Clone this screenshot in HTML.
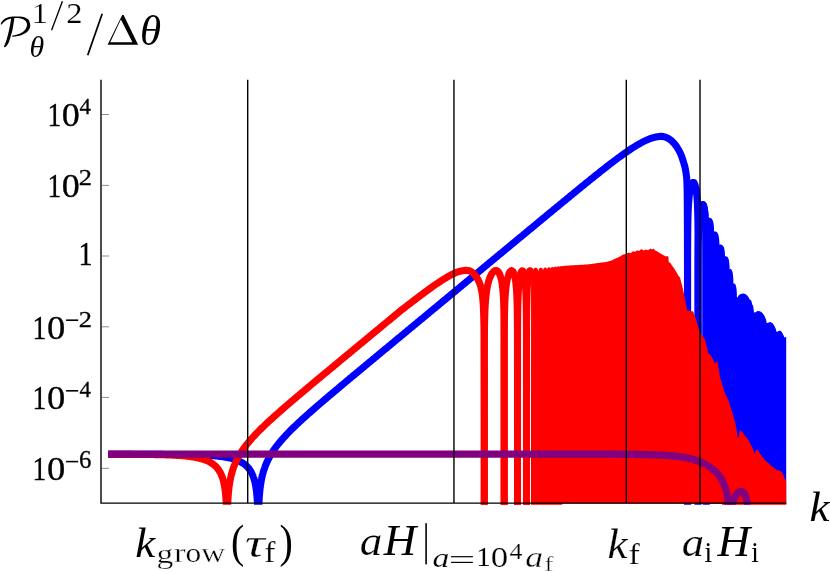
<!DOCTYPE html>
<html><head><meta charset="utf-8"><title>Power spectrum</title>
<style>
html,body{margin:0;padding:0;background:#fff;}
body{width:830px;height:572px;overflow:hidden;font-family:"Liberation Serif",serif;}
svg{display:block;}
text{font-family:"Liberation Serif",serif;fill:#000;}
.it{font-style:italic;}
</style></head><body>
<svg width="830" height="572" viewBox="0 0 830 572">
<rect width="830" height="572" fill="#fff"/>
<defs><clipPath id="cp"><rect x="100" y="70" width="700" height="434.8"/></clipPath></defs>
<g clip-path="url(#cp)" fill="none" stroke-linejoin="round" stroke-linecap="butt">
<g stroke="#0000ff" stroke-width="7.05">
<path d="M108.00,454.30 L109.43,454.31 L110.87,454.31 L112.30,454.31 L113.74,454.31 L115.17,454.31 L116.61,454.31 L118.04,454.31 L119.47,454.31 L120.91,454.31 L122.34,454.31 L123.78,454.31 L125.21,454.31 L126.65,454.31 L128.08,454.31 L129.52,454.32 L130.95,454.32 L132.38,454.32 L133.82,454.32 L135.25,454.32 L136.69,454.32 L138.12,454.32 L139.56,454.33 L140.99,454.33 L142.42,454.33 L143.86,454.33 L145.29,454.34 L146.73,454.34 L148.16,454.34 L149.60,454.34 L151.03,454.35 L152.46,454.35 L153.90,454.36 L155.33,454.36 L156.77,454.37 L158.20,454.37 L159.64,454.38 L161.07,454.38 L162.51,454.39 L163.94,454.40 L165.37,454.40 L166.81,454.41 L168.24,454.42 L169.68,454.43 L171.11,454.44 L172.55,454.45 L173.98,454.47 L175.41,454.48 L176.85,454.49 L178.28,454.51 L179.72,454.53 L181.15,454.54 L182.59,454.56 L184.02,454.59 L185.45,454.61 L186.89,454.63 L188.32,454.66 L189.76,454.69 L191.19,454.72 L192.63,454.76 L194.06,454.79 L195.49,454.83 L196.93,454.88 L198.36,454.93 L199.80,454.98 L201.23,455.03 L202.67,455.09 L204.10,455.16 L205.54,455.23 L206.97,455.31 L208.40,455.39 L209.84,455.48 L211.27,455.58 L212.71,455.69 L214.14,455.80 L215.58,455.93 L217.01,456.07 L218.44,456.22 L219.88,456.39 L221.31,456.57 L222.75,456.77 L224.18,456.98 L225.62,457.22 L227.05,457.48 L228.48,457.77 L229.92,458.08 L231.35,458.43 L232.79,458.81 L234.22,459.24 L235.66,459.72 L237.09,460.25 L238.53,460.84 L239.96,461.51 L241.39,462.27 L242.83,463.13 L244.26,464.12 L245.70,465.27 L247.13,466.61 L248.57,468.20 L250.00,470.14 L250.00,470.14 L250.05,470.22 L250.11,470.30 L250.16,470.38 L250.21,470.46 L250.27,470.54 L250.32,470.63 L250.37,470.71 L250.43,470.79 L250.48,470.88 L250.54,470.97 L250.59,471.05 L250.64,471.14 L250.70,471.23 L250.75,471.32 L250.80,471.41 L250.86,471.50 L250.91,471.59 L250.96,471.68 L251.02,471.78 L251.07,471.87 L251.12,471.97 L251.18,472.06 L251.23,472.16 L251.28,472.26 L251.34,472.36 L251.39,472.46 L251.44,472.56 L251.50,472.66 L251.55,472.76 L251.61,472.86 L251.66,472.97 L251.71,473.07 L251.77,473.18 L251.82,473.29 L251.87,473.40 L251.93,473.51 L251.98,473.62 L252.03,473.73 L252.09,473.84 L252.14,473.96 L252.19,474.07 L252.25,474.19 L252.30,474.31 L252.35,474.43 L252.41,474.55 L252.46,474.67 L252.52,474.79 L252.57,474.91 L252.62,475.04 L252.68,475.17 L252.73,475.30 L252.78,475.43 L252.84,475.56 L252.89,475.69 L252.94,475.83 L253.00,475.96 L253.05,476.10 L253.10,476.24 L253.16,476.38 L253.21,476.52 L253.26,476.67 L253.32,476.81 L253.37,476.96 L253.42,477.11 L253.48,477.26 L253.53,477.42 L253.59,477.57 L253.64,477.73 L253.69,477.89 L253.75,478.05 L253.80,478.22 L253.85,478.39 L253.91,478.56 L253.96,478.73 L254.01,478.90 L254.07,479.08 L254.12,479.26 L254.17,479.44 L254.23,479.62 L254.28,479.81 L254.33,480.00 L254.39,480.19 L254.44,480.39 L254.49,480.59 L254.55,480.79 L254.60,480.99 L254.66,481.20 L254.71,481.42 L254.76,481.63 L254.82,481.85 L254.87,482.08 L254.92,482.30 L254.98,482.53 L255.03,482.77 L255.08,483.01 L255.14,483.26 L255.19,483.51 L255.24,483.76 L255.30,484.02 L255.35,484.28 L255.40,484.55 L255.46,484.83 L255.51,485.11 L255.57,485.40 L255.62,485.69 L255.67,485.99 L255.73,486.30 L255.78,486.61 L255.83,486.94 L255.89,487.27 L255.94,487.60 L255.99,487.95 L256.05,488.31 L256.10,488.67 L256.15,489.05 L256.21,489.43 L256.26,489.83 L256.31,490.24 L256.37,490.66 L256.42,491.09 L256.47,491.54 L256.53,492.00 L256.58,492.48 L256.64,492.98 L256.69,493.49 L256.74,494.02 L256.80,494.57 L256.85,495.15 L256.90,495.75 L256.96,496.38 L257.01,497.03 L257.06,497.72 L257.12,498.44 L257.17,499.19 L257.22,499.99 L257.28,500.84 L257.33,501.73 L257.38,502.69 L257.44,503.71 L257.49,504.81 L257.55,505.00 L257.60,505.00 L257.65,505.00 L257.71,505.00 L257.76,505.00 L257.81,505.00 L257.87,505.00 L257.92,505.00 L257.97,505.00 L258.03,505.00 L258.08,505.00 L258.13,505.00 L258.19,505.00 L258.24,505.00 L258.29,505.00 L258.35,505.00 L258.40,505.00 L258.45,505.00 L258.51,505.00 L258.56,505.00 L258.62,505.00 L258.67,505.00 L258.72,505.00 L258.78,505.00 L258.83,505.00 L258.88,504.79 L258.94,503.61 L258.99,502.51 L259.04,501.48 L259.10,500.51 L259.15,499.60 L259.20,498.73 L259.26,497.91 L259.31,497.13 L259.36,496.39 L259.42,495.67 L259.47,494.99 L259.53,494.33 L259.58,493.70 L259.63,493.10 L259.69,492.51 L259.74,491.94 L259.79,491.39 L259.85,490.86 L259.90,490.35 L259.95,489.85 L260.01,489.37 L260.06,488.90 L260.11,488.44 L260.17,487.99 L260.22,487.55 L260.27,487.13 L260.33,486.72 L260.38,486.31 L260.43,485.92 L260.49,485.53 L260.54,485.15 L260.60,484.78 L260.65,484.42 L260.70,484.06 L260.76,483.72 L260.81,483.38 L260.86,483.04 L260.92,482.71 L260.97,482.39 L261.02,482.07 L261.08,481.76 L261.13,481.46 L261.18,481.15 L261.24,480.86 L261.29,480.57 L261.34,480.28 L261.40,480.00 L261.45,479.72 L261.51,479.45 L261.56,479.18 L261.61,478.91 L261.67,478.65 L261.72,478.39 L261.77,478.14 L261.83,477.88 L261.88,477.64 L261.93,477.39 L261.99,477.15 L262.04,476.91 L262.09,476.68 L262.15,476.44 L262.20,476.21 L262.25,475.99 L262.31,475.76 L262.36,475.54 L262.41,475.32 L262.47,475.10 L262.52,474.89 L262.58,474.68 L262.63,474.47 L262.68,474.26 L262.74,474.05 L262.79,473.85 L262.84,473.65 L262.90,473.45 L262.95,473.25 L263.00,473.06 L263.06,472.86 L263.11,472.67 L263.16,472.48 L263.22,472.29 L263.27,472.11 L263.32,471.92 L263.38,471.74 L263.43,471.56 L263.48,471.38 L263.54,471.20 L263.59,471.02 L263.65,470.85 L263.70,470.68 L263.75,470.50 L263.81,470.33 L263.86,470.16 L263.91,470.00 L263.97,469.83 L264.02,469.66 L264.07,469.50 L264.13,469.34 L264.18,469.17 L264.23,469.01 L264.29,468.86 L264.34,468.70 L264.39,468.54 L264.45,468.39 L264.50,468.23 L264.56,468.08 L264.61,467.92 L264.66,467.77 L264.72,467.62 L264.77,467.47 L264.82,467.33 L264.88,467.18 L264.93,467.03 L264.98,466.89 L265.04,466.74 L265.09,466.60 L265.14,466.46 L265.20,466.32 L265.25,466.17 L265.30,466.04 L265.36,465.90 L265.41,465.76 L265.46,465.62 L265.52,465.48 L265.57,465.35 L265.63,465.21 L265.68,465.08 L265.73,464.95 L265.79,464.81 L265.84,464.68 L265.89,464.55 L265.95,464.42 L266.00,464.29 L266.00,464.29 L267.00,462.00 L267.99,459.90 L268.99,457.96 L269.99,456.14 L270.99,454.44 L271.98,452.82 L272.98,451.28 L273.98,449.81 L274.98,448.39 L275.97,447.03 L276.97,445.71 L277.97,444.43 L278.97,443.19 L279.96,441.98 L280.96,440.79 L281.96,439.64 L282.96,438.50 L283.95,437.39 L284.95,436.30 L285.95,435.23 L286.95,434.17 L287.94,433.13 L288.94,432.10 L289.94,431.09 L290.94,430.09 L291.93,429.09 L292.93,428.11 L293.93,427.14 L294.93,426.18 L295.92,425.22 L296.92,424.28 L297.92,423.34 L298.92,422.41 L299.91,421.48 L300.91,420.56 L301.91,419.64 L302.91,418.73 L303.90,417.83 L304.90,416.93 L305.90,416.03 L306.90,415.14 L307.89,414.25 L308.89,413.36 L309.89,412.48 L310.89,411.60 L311.88,410.73 L312.88,409.85 L313.88,408.98 L314.88,408.12 L315.87,407.25 L316.87,406.39 L317.87,405.52 L318.87,404.66 L319.86,403.81 L320.86,402.95 L321.86,402.10 L322.86,401.24 L323.85,400.39 L324.85,399.54 L325.85,398.69 L326.85,397.85 L327.84,397.00 L328.84,396.15 L329.84,395.31 L330.84,394.47 L331.83,393.62 L332.83,392.78 L333.83,391.94 L334.83,391.10 L335.82,390.26 L336.82,389.43 L337.82,388.59 L338.82,387.75 L339.81,386.91 L340.81,386.08 L341.81,385.24 L342.81,384.41 L343.80,383.57 L344.80,382.74 L345.80,381.91 L346.80,381.07 L347.79,380.24 L348.79,379.41 L349.79,378.58 L350.79,377.74 L351.78,376.91 L352.78,376.08 L353.78,375.25 L354.78,374.42 L355.77,373.59 L356.77,372.76 L357.77,371.93 L358.77,371.10 L359.76,370.27 L360.76,369.44 L361.76,368.61 L362.76,367.78 L363.75,366.95 L364.75,366.12 L365.75,365.30 L366.75,364.47 L367.74,363.64 L368.74,362.81 L369.74,361.98 L370.74,361.16 L371.73,360.33 L372.73,359.50 L373.73,358.67 L374.73,357.84 L375.72,357.02 L376.72,356.19 L377.72,355.36 L378.72,354.54 L379.71,353.71 L380.71,352.88 L381.71,352.05 L382.71,351.23 L383.70,350.40 L384.70,349.57 L385.70,348.75 L386.70,347.92 L387.69,347.09 L388.69,346.27 L389.69,345.44 L390.69,344.61 L391.68,343.79 L392.68,342.96 L393.68,342.13 L394.68,341.31 L395.67,340.48 L396.67,339.65 L397.67,338.83 L398.67,338.00 L399.66,337.18 L400.66,336.35 L401.66,335.52 L402.66,334.70 L403.65,333.87 L404.65,333.04 L405.65,332.22 L406.65,331.39 L407.64,330.57 L408.64,329.74 L409.64,328.91 L410.64,328.09 L411.63,327.26 L412.63,326.43 L413.63,325.61 L414.63,324.78 L415.62,323.96 L416.62,323.13 L417.62,322.30 L418.62,321.48 L419.61,320.65 L420.61,319.83 L421.61,319.00 L422.61,318.17 L423.60,317.35 L424.60,316.52 L425.60,315.70 L426.60,314.87 L427.59,314.04 L428.59,313.22 L429.59,312.39 L430.59,311.57 L431.58,310.74 L432.58,309.91 L433.58,309.09 L434.58,308.26 L435.57,307.44 L436.57,306.61 L437.57,305.78 L438.57,304.96 L439.56,304.13 L440.56,303.31 L441.56,302.48 L442.56,301.65 L443.55,300.83 L444.55,300.00 L445.55,299.18 L446.55,298.35 L447.54,297.52 L448.54,296.70 L449.54,295.87 L450.54,295.05 L451.53,294.22 L452.53,293.39 L453.53,292.57 L454.53,291.74 L455.52,290.92 L456.52,290.09 L457.52,289.26 L458.52,288.44 L459.51,287.61 L460.51,286.79 L461.51,285.96 L462.51,285.14 L463.50,284.31 L464.50,283.48 L465.50,282.66 L466.50,281.83 L467.49,281.01 L468.49,280.18 L469.49,279.35 L470.49,278.53 L471.48,277.70 L472.48,276.88 L473.48,276.05 L474.48,275.22 L475.47,274.40 L476.47,273.57 L477.47,272.75 L478.47,271.92 L479.46,271.10 L480.46,270.27 L481.46,269.44 L482.46,268.62 L483.45,267.79 L484.45,266.97 L485.45,266.14 L486.45,265.31 L487.44,264.49 L488.44,263.66 L489.44,262.84 L490.44,262.01 L491.43,261.19 L492.43,260.36 L493.43,259.53 L494.43,258.71 L495.42,257.88 L496.42,257.06 L497.42,256.23 L498.42,255.40 L499.41,254.58 L500.41,253.75 L501.41,252.93 L502.41,252.10 L503.40,251.28 L504.40,250.45 L505.40,249.62 L506.40,248.80 L507.39,247.97 L508.39,247.15 L509.39,246.32 L510.39,245.50 L511.38,244.67 L512.38,243.85 L513.38,243.02 L514.38,242.19 L515.37,241.37 L516.37,240.54 L517.37,239.72 L518.37,238.89 L519.36,238.07 L520.36,237.24 L521.36,236.42 L522.36,235.59 L523.35,234.77 L524.35,233.94 L525.35,233.12 L526.35,232.29 L527.34,231.47 L528.34,230.64 L529.34,229.82 L530.34,228.99 L531.33,228.17 L532.33,227.34 L533.33,226.52 L534.33,225.69 L535.32,224.87 L536.32,224.04 L537.32,223.22 L538.32,222.39 L539.31,221.57 L540.31,220.74 L541.31,219.92 L542.31,219.10 L543.30,218.27 L544.30,217.45 L545.30,216.62 L546.30,215.80 L547.29,214.98 L548.29,214.15 L549.29,213.33 L550.29,212.51 L551.28,211.68 L552.28,210.86 L553.28,210.04 L554.28,209.21 L555.27,208.39 L556.27,207.57 L557.27,206.75 L558.27,205.93 L559.26,205.10 L560.26,204.28 L561.26,203.46 L562.26,202.64 L563.25,201.82 L564.25,201.00 L565.25,200.18 L566.25,199.36 L567.24,198.54 L568.24,197.72 L569.24,196.90 L570.24,196.08 L571.23,195.26 L572.23,194.45 L573.23,193.63 L574.23,192.81 L575.22,192.00 L576.22,191.18 L577.22,190.36 L578.22,189.55 L579.21,188.74 L580.21,187.92 L581.21,187.11 L582.21,186.30 L583.20,185.49 L584.20,184.67 L585.20,183.86 L586.20,183.06 L587.19,182.25 L588.19,181.44 L589.19,180.63 L590.19,179.83 L591.18,179.02 L592.18,178.22 L593.18,177.42 L594.18,176.62 L595.17,175.82 L596.17,175.02 L597.17,174.22 L598.17,173.43 L599.16,172.64 L600.16,171.84 L601.16,171.05 L602.16,170.27 L603.15,169.48 L604.15,168.70 L605.15,167.91 L606.15,167.13 L607.14,166.36 L608.14,165.58 L609.14,164.81 L610.14,164.04 L611.13,163.28 L612.13,162.51 L613.13,161.76 L614.13,161.00 L615.12,160.25 L616.12,159.50 L617.12,158.75 L618.12,158.01 L619.11,157.28 L620.11,156.55 L621.11,155.82 L622.11,155.10 L623.10,154.39 L624.10,153.68 L625.10,152.98 L626.10,152.28 L627.09,151.59 L628.00,150.97 L629.44,149.99 L630.89,149.02 L632.35,148.08 L633.82,147.14 L635.30,146.23 L636.79,145.32 L638.29,144.43 L639.80,143.58 L641.33,142.74 L642.87,141.93 L644.43,141.14 L646.01,140.41 L647.60,139.70 L649.21,139.03 L650.84,138.42 L652.50,137.88 L654.17,137.39 L655.87,136.97 L657.58,136.68 L659.31,136.44 L661.04,136.33 L662.78,136.52 L664.48,136.90 L666.15,137.42 L667.74,138.12 L669.25,139.00 L670.66,140.02 L671.96,141.16 L673.20,142.41 L674.36,143.71 L675.46,145.06 L676.50,146.46 L677.46,147.91 L678.34,149.41 L679.17,150.95 L679.95,152.50 L680.70,154.08 L681.38,155.69 L681.97,157.32 L682.51,158.97 L683.03,160.64 L683.55,162.30 L684.08,163.96 L684.58,165.63 L684.99,167.32 L685.37,169.02 L685.70,170.73 L685.97,172.45 L686.21,174.18 L686.44,175.91 L686.63,177.64 L686.77,179.38 L686.85,181.11 L686.92,182.85 L686.98,184.59 L687.03,186.33 L687.08,188.07 L687.12,189.81 L687.15,191.56 L687.18,193.30 L687.20,195.04 L687.22,196.78 L687.23,198.52 L687.25,200.26 L687.26,202.00 L687.28,203.75 L687.29,205.49 L687.30,207.23 L687.31,208.97 L687.32,210.71 L687.33,212.45 L687.34,214.19 L687.35,215.94 L687.36,217.68 L687.37,219.42 L687.37,221.16 L687.38,222.90 L687.39,224.64 L687.39,226.38 L687.40,228.13 L687.40,229.87 L687.40,231.61 L687.41,233.35 L687.41,235.09 L687.42,236.83 L687.42,238.57 L687.42,240.31 L687.43,242.06 L687.43,243.80 L687.43,245.54 L687.44,247.28 L687.44,249.02 L687.44,250.76 L687.45,252.50 L687.45,254.25 L687.45,255.99 L687.45,257.73 L687.46,259.47 L687.46,261.21 L687.46,262.95 L687.46,264.69 L687.47,266.44 L687.47,268.18 L687.47,269.92 L687.47,271.66 L687.47,273.40 L687.48,275.14 L687.48,276.88 L687.48,278.62 L687.48,280.37 L687.48,282.11 L687.49,283.85 L687.49,285.59 L687.49,287.33 L687.49,289.07 L687.49,290.81 L687.49,292.56 L687.50,294.30 L687.50,296.04 L687.50,297.78 L687.50,299.52 L687.50,301.26 L687.50,303.00 L687.50,304.74 L687.51,306.49 L687.51,308.23 L687.51,309.97 L687.51,311.71 L687.51,313.45 L687.51,315.19 L687.51,316.93 L687.51,318.68 L687.52,320.42 L687.52,322.16 L687.52,323.90 L687.52,325.64 L687.52,327.38 L687.52,329.12 L687.52,330.87 L687.53,332.61 L687.53,334.35 L687.53,336.09 L687.53,337.83 L687.53,339.57 L687.53,341.31 L687.53,343.05 L687.53,344.80 L687.54,346.54 L687.54,348.28 L687.54,350.02 L687.54,351.76 L687.54,353.50 L687.54,355.24 L687.54,356.99 L687.54,358.73 L687.54,360.47 L687.55,362.21 L687.55,363.95 L687.55,365.69 L687.55,367.43 L687.55,369.17 L687.55,370.92 L687.55,372.66 L687.55,374.40 L687.55,376.14 L687.56,377.88 L687.56,379.62 L687.56,381.36 L687.56,383.11 L687.56,384.85 L687.56,386.59 L687.56,388.33 L687.56,390.07 L687.56,391.81 L687.57,393.55 L687.57,395.29 L687.57,397.04 L687.57,398.78 L687.57,400.52 L687.57,402.26 L687.57,404.00 L687.57,405.74 L687.57,407.48 L687.57,409.23 L687.57,410.97 L687.58,412.71 L687.58,414.45 L687.58,416.19 L687.58,417.93 L687.58,419.67 L687.58,421.42 L687.58,423.16 L687.58,424.90 L687.58,426.64 L687.58,428.38 L687.58,430.12 L687.58,431.86 L687.58,433.60 L687.59,435.35 L687.59,437.09 L687.59,438.83 L687.59,440.57 L687.59,442.31 L687.59,444.05 L687.59,445.79 L687.59,447.54 L687.59,449.28 L687.59,451.02 L687.59,452.76 L687.59,454.50 L687.59,456.24 L687.59,457.98 L687.59,459.72 L687.59,461.47 L687.59,463.21 L687.60,464.95 L687.60,466.69 L687.60,468.43 L687.60,470.17 L687.60,471.91 L687.60,473.66 L687.60,475.40 L687.60,477.14 L687.60,478.88 L687.60,480.62 L687.60,482.36 L687.60,484.10 L687.60,485.85 L687.60,487.59 L687.60,489.33 L687.60,491.07 L687.60,492.81 L687.60,494.55 L687.60,496.29 L687.60,498.03 L687.60,499.78 L687.60,501.52 L687.60,503.26 L687.60,505.00"/>
<path d="M687.60,501.00 L687.64,255.20 L687.67,244.54 L687.71,238.30 L687.74,233.87 L687.78,230.43 L687.81,227.62 L687.85,225.24 L687.88,223.18 L687.92,221.37 L687.95,219.74 L687.99,218.27 L688.02,216.93 L688.06,215.69 L688.09,214.55 L688.13,213.49 L688.16,212.49 L688.20,211.56 L688.23,210.68 L688.27,209.85 L688.30,209.06 L688.34,208.30 L688.37,207.59 L688.41,206.91 L688.44,206.25 L688.48,205.63 L688.51,205.02 L688.55,204.45 L688.58,203.89 L688.62,203.35 L688.65,202.83 L688.69,202.33 L688.72,201.85 L688.76,201.38 L688.79,200.93 L688.83,200.49 L688.86,200.06 L688.90,199.65 L688.93,199.24 L688.97,198.85 L689.00,198.47 L689.04,198.10 L689.07,197.74 L689.11,197.38 L689.15,197.04 L689.18,196.70 L689.22,196.38 L689.25,196.06 L689.29,195.75 L689.32,195.44 L689.36,195.14 L689.39,194.85 L689.43,194.57 L689.46,194.29 L689.50,194.01 L689.53,193.75 L689.57,193.49 L689.60,193.23 L689.64,192.98 L689.67,192.73 L689.71,192.49 L689.74,192.26 L689.78,192.02 L689.81,191.80 L689.85,191.57 L689.88,191.36 L689.92,191.14 L689.95,190.93 L689.99,190.73 L690.02,190.52 L690.06,190.32 L690.09,190.13 L690.13,189.94 L690.16,189.75 L690.20,189.57 L690.23,189.39 L690.27,189.21 L690.30,189.03 L690.34,188.86 L690.37,188.69 L690.41,188.53 L690.44,188.37 L690.48,188.21 L690.51,188.05 L690.55,187.90 L690.58,187.75 L690.62,187.60 L690.66,187.45 L690.69,187.31 L690.73,187.17 L690.76,187.03 L690.80,186.90 L690.83,186.77 L690.87,186.64 L690.90,186.51 L690.94,186.38 L690.97,186.26 L691.01,186.14 L691.04,186.02 L691.08,185.90 L691.11,185.79 L691.15,185.68 L691.18,185.57 L691.22,185.46 L691.25,185.36 L691.29,185.25 L691.32,185.15 L691.36,185.05 L691.39,184.95 L691.43,184.86 L691.46,184.77 L691.50,184.68 L691.53,184.59 L691.57,184.50 L691.60,184.41 L691.64,184.33 L691.67,184.25 L691.71,184.17 L691.74,184.09 L691.78,184.02 L691.81,183.94 L691.85,183.87 L691.88,183.80 L691.92,183.73 L691.95,183.66 L691.99,183.60 L692.02,183.54 L692.06,183.47 L692.09,183.41 L692.13,183.36 L692.17,183.30 L692.20,183.25 L692.24,183.19 L692.27,183.14 L692.31,183.09 L692.34,183.04 L692.38,183.00 L692.41,182.95 L692.45,182.91 L692.48,182.87 L692.52,182.83 L692.55,182.79 L692.59,182.76 L692.62,182.73 L692.66,182.69 L692.69,182.66 L692.73,182.63 L692.76,182.61 L692.80,182.58 L692.83,182.56 L692.87,182.53 L692.90,182.51 L692.94,182.50 L692.97,182.48 L693.01,182.46 L693.04,182.45 L693.08,182.44 L693.11,182.43 L693.15,182.42 L693.18,182.41 L693.22,182.41 L693.25,182.40 L693.29,182.40 L693.32,182.40 L693.36,182.40 L693.39,182.41 L693.43,182.41 L693.46,182.42 L693.50,182.43 L693.53,182.44 L693.57,182.45 L693.61,182.46 L693.64,182.48 L693.68,182.50 L693.71,182.52 L693.75,182.54 L693.78,182.56 L693.82,182.59 L693.85,182.61 L693.89,182.64 L693.92,182.67 L693.96,182.70 L693.99,182.74 L694.03,182.77 L694.06,182.81 L694.10,182.85 L694.13,182.90 L694.17,182.94 L694.20,182.99 L694.24,183.03 L694.27,183.09 L694.31,183.14 L694.34,183.19 L694.38,183.25 L694.41,183.31 L694.45,183.37 L694.48,183.43 L694.52,183.50 L694.55,183.57 L694.59,183.64 L694.62,183.71 L694.66,183.78 L694.69,183.86 L694.73,183.94 L694.76,184.02 L694.80,184.10 L694.83,184.19 L694.87,184.28 L694.90,184.37 L694.94,184.47 L694.97,184.56 L695.01,184.66 L695.04,184.77 L695.08,184.87 L695.12,184.98 L695.15,185.09 L695.19,185.20 L695.22,185.32 L695.26,185.44 L695.29,185.56 L695.33,185.69 L695.36,185.82 L695.40,185.95 L695.43,186.09 L695.47,186.22 L695.50,186.37 L695.54,186.51 L695.57,186.66 L695.61,186.82 L695.64,186.97 L695.68,187.13 L695.71,187.30 L695.75,187.47 L695.78,187.64 L695.82,187.82 L695.85,188.00 L695.89,188.19 L695.92,188.38 L695.96,188.57 L695.99,188.77 L696.03,188.98 L696.06,189.19 L696.10,189.41 L696.13,189.63 L696.17,189.85 L696.20,190.09 L696.24,190.32 L696.27,190.57 L696.31,190.82 L696.34,191.08 L696.38,191.34 L696.41,191.62 L696.45,191.89 L696.48,192.18 L696.52,192.48 L696.55,192.78 L696.59,193.09 L696.63,193.41 L696.66,193.74 L696.70,194.08 L696.73,194.43 L696.77,194.79 L696.80,195.17 L696.84,195.55 L696.87,195.95 L696.91,196.36 L696.94,196.78 L696.98,197.22 L697.01,197.68 L697.05,198.15 L697.08,198.64 L697.12,199.15 L697.15,199.68 L697.19,200.23 L697.22,200.80 L697.26,201.40 L697.29,202.03 L697.33,202.69 L697.36,203.38 L697.40,204.10 L697.43,204.87 L697.47,205.68 L697.50,206.53 L697.54,207.44 L697.57,208.41 L697.61,209.45 L697.64,210.57 L697.68,211.79 L697.71,213.11 L697.75,214.55 L697.78,216.16 L697.82,217.95 L697.85,219.99 L697.89,222.35 L697.92,225.14 L697.96,228.55 L697.99,232.97 L698.03,239.19 L698.06,249.83 L698.10,501.00"/>
<path d="M698.10,505.00 L698.13,276.78 L698.15,266.12 L698.18,259.88 L698.21,255.45 L698.24,252.02 L698.26,249.21 L698.29,246.84 L698.32,244.78 L698.35,242.96 L698.37,241.34 L698.40,239.87 L698.43,238.53 L698.46,237.30 L698.48,236.16 L698.51,235.10 L698.54,234.11 L698.57,233.18 L698.59,232.30 L698.62,231.47 L698.65,230.68 L698.68,229.93 L698.70,229.22 L698.73,228.54 L698.76,227.89 L698.79,227.26 L698.81,226.67 L698.84,226.09 L698.87,225.54 L698.90,225.00 L698.92,224.49 L698.95,223.99 L698.98,223.51 L699.01,223.04 L699.03,222.59 L699.06,222.16 L699.09,221.73 L699.11,221.32 L699.14,220.92 L699.17,220.53 L699.20,220.15 L699.22,219.78 L699.25,219.43 L699.28,219.08 L699.31,218.74 L699.33,218.40 L699.36,218.08 L699.39,217.76 L699.42,217.45 L699.44,217.15 L699.47,216.86 L699.50,216.57 L699.53,216.29 L699.55,216.01 L699.58,215.74 L699.61,215.48 L699.64,215.22 L699.66,214.97 L699.69,214.72 L699.72,214.48 L699.75,214.24 L699.77,214.01 L699.80,213.78 L699.83,213.56 L699.86,213.34 L699.88,213.13 L699.91,212.92 L699.94,212.71 L699.96,212.51 L699.99,212.31 L700.02,212.11 L700.05,211.92 L700.07,211.74 L700.10,211.55 L700.13,211.37 L700.16,211.19 L700.18,211.02 L700.21,210.85 L700.24,210.68 L700.27,210.52 L700.29,210.36 L700.32,210.20 L700.35,210.04 L700.38,209.89 L700.40,209.74 L700.43,209.60 L700.46,209.45 L700.49,209.31 L700.51,209.17 L700.54,209.04 L700.57,208.90 L700.60,208.77 L700.62,208.64 L700.65,208.52 L700.68,208.39 L700.71,208.27 L700.73,208.15 L700.76,208.04 L700.79,207.92 L700.82,207.81 L700.84,207.70 L700.87,207.60 L700.90,207.49 L700.92,207.39 L700.95,207.29 L700.98,207.19 L701.01,207.09 L701.03,207.00 L701.06,206.90 L701.09,206.81 L701.12,206.72 L701.14,206.64 L701.17,206.55 L701.20,206.47 L701.23,206.39 L701.25,206.31 L701.28,206.23 L701.31,206.16 L701.34,206.09 L701.36,206.01 L701.39,205.94 L701.42,205.88 L701.45,205.81 L701.47,205.75 L701.50,205.69 L701.53,205.62 L701.56,205.57 L701.58,205.51 L701.61,205.45 L701.64,205.40 L701.67,205.35 L701.69,205.30 L701.72,205.25 L701.75,205.21 L701.77,205.16 L701.80,205.12 L701.83,205.08 L701.86,205.04 L701.88,205.00 L701.91,204.96 L701.94,204.93 L701.97,204.90 L701.99,204.87 L702.02,204.84 L702.05,204.81 L702.08,204.78 L702.10,204.76 L702.13,204.74 L702.16,204.72 L702.19,204.70 L702.21,204.68 L702.24,204.66 L702.27,204.65 L702.30,204.64 L702.32,204.63 L702.35,204.62 L702.38,204.61 L702.41,204.61 L702.43,204.60 L702.46,204.60 L702.49,204.60 L702.52,204.60 L702.54,204.60 L702.57,204.61 L702.60,204.62 L702.63,204.62 L702.65,204.63 L702.68,204.65 L702.71,204.66 L702.73,204.68 L702.76,204.69 L702.79,204.71 L702.82,204.73 L702.84,204.75 L702.87,204.78 L702.90,204.81 L702.93,204.83 L702.95,204.86 L702.98,204.89 L703.01,204.93 L703.04,204.96 L703.06,205.00 L703.09,205.04 L703.12,205.08 L703.15,205.12 L703.17,205.17 L703.20,205.22 L703.23,205.27 L703.26,205.32 L703.28,205.37 L703.31,205.43 L703.34,205.48 L703.37,205.54 L703.39,205.60 L703.42,205.67 L703.45,205.73 L703.48,205.80 L703.50,205.87 L703.53,205.94 L703.56,206.02 L703.58,206.10 L703.61,206.18 L703.64,206.26 L703.67,206.34 L703.69,206.43 L703.72,206.52 L703.75,206.61 L703.78,206.70 L703.80,206.80 L703.83,206.90 L703.86,207.00 L703.89,207.10 L703.91,207.21 L703.94,207.32 L703.97,207.43 L704.00,207.55 L704.02,207.67 L704.05,207.79 L704.08,207.91 L704.11,208.04 L704.13,208.17 L704.16,208.30 L704.19,208.44 L704.22,208.58 L704.24,208.72 L704.27,208.87 L704.30,209.02 L704.33,209.18 L704.35,209.33 L704.38,209.50 L704.41,209.66 L704.44,209.83 L704.46,210.00 L704.49,210.18 L704.52,210.36 L704.54,210.55 L704.57,210.74 L704.60,210.93 L704.63,211.13 L704.65,211.34 L704.68,211.55 L704.71,211.76 L704.74,211.98 L704.76,212.21 L704.79,212.44 L704.82,212.68 L704.85,212.92 L704.87,213.17 L704.90,213.42 L704.93,213.68 L704.96,213.95 L704.98,214.23 L705.01,214.51 L705.04,214.80 L705.07,215.10 L705.09,215.41 L705.12,215.72 L705.15,216.05 L705.18,216.38 L705.20,216.73 L705.23,217.08 L705.26,217.45 L705.29,217.82 L705.31,218.21 L705.34,218.61 L705.37,219.02 L705.39,219.45 L705.42,219.90 L705.45,220.35 L705.48,220.83 L705.50,221.32 L705.53,221.83 L705.56,222.37 L705.59,222.92 L705.61,223.50 L705.64,224.10 L705.67,224.73 L705.70,225.39 L705.72,226.09 L705.75,226.81 L705.78,227.58 L705.81,228.39 L705.83,229.25 L705.86,230.16 L705.89,231.14 L705.92,232.18 L705.94,233.30 L705.97,234.52 L706.00,235.84 L706.03,237.29 L706.05,238.90 L706.08,240.69 L706.11,242.73 L706.14,245.09 L706.16,247.88 L706.19,251.31 L706.22,255.72 L706.25,261.94 L706.27,272.59 L706.30,505.00"/>
</g>
<path d="M702.30,503.60 L702.30,201.30 L702.30,201.10 L703.95,201.19 L705.13,201.66 L706.11,202.67 L706.92,204.32 L707.56,206.64 L708.03,209.59 L708.31,213.09 L708.40,217.00 L708.40,217.70 L709.94,217.78 L711.04,218.17 L711.96,219.03 L712.72,220.44 L713.32,222.40 L713.75,224.91 L714.01,227.88 L714.10,231.20 L714.10,231.40 L715.53,231.48 L716.56,231.85 L717.41,232.67 L718.12,234.01 L718.67,235.90 L719.07,238.29 L719.32,241.13 L719.40,244.30 L719.40,244.50 L720.91,244.57 L722.00,244.90 L722.90,245.64 L723.64,246.83 L724.23,248.51 L724.66,250.64 L724.91,253.17 L725.00,256.00 L725.00,256.20 L726.24,256.27 L727.13,256.64 L727.87,257.44 L728.49,258.75 L728.97,260.59 L729.32,262.93 L729.53,265.70 L729.60,268.80 L729.60,269.00 L730.63,269.08 L731.36,269.50 L731.97,270.41 L732.48,271.90 L732.88,273.98 L733.17,276.64 L733.34,279.78 L733.40,283.30 L733.40,283.50 L734.35,283.58 L735.02,283.97 L735.59,284.83 L736.05,286.24 L736.42,288.20 L736.69,290.71 L736.85,293.68 L736.90,297.00 L737.40,297.60 L738.60,295.60 L740.60,294.00 L743.20,293.60 L745.40,294.00 L747.20,295.40 L748.80,297.60 L749.60,299.60 L750.60,299.80 L751.60,301.60 L752.20,304.60 L753.00,305.60 L753.60,309.00 L754.00,312.40 L755.60,312.20 L757.50,311.00 L760.00,311.20 L762.50,313.00 L764.50,316.00 L766.00,319.50 L766.80,323.20 L768.50,322.60 L770.50,322.00 L772.50,323.20 L774.50,326.00 L775.80,329.00 L776.60,332.00 L778.00,331.20 L780.00,330.50 L781.80,332.00 L783.40,335.00 L784.40,337.50 L786.20,337.00 L786.20,503.60 Z" fill="#0000ff" stroke="none"/>
<g stroke="#ff0000" stroke-width="7.05">
<path d="M108.00,454.33 L109.11,454.33 L110.22,454.33 L111.33,454.33 L112.44,454.33 L113.56,454.33 L114.67,454.34 L115.78,454.34 L116.89,454.34 L118.00,454.34 L119.11,454.35 L120.22,454.35 L121.33,454.35 L122.44,454.36 L123.56,454.36 L124.67,454.36 L125.78,454.37 L126.89,454.37 L128.00,454.37 L129.11,454.38 L130.22,454.38 L131.33,454.39 L132.44,454.40 L133.56,454.40 L134.67,454.41 L135.78,454.41 L136.89,454.42 L138.00,454.43 L139.11,454.44 L140.22,454.45 L141.33,454.45 L142.44,454.46 L143.56,454.47 L144.67,454.48 L145.78,454.50 L146.89,454.51 L148.00,454.52 L149.11,454.53 L150.22,454.55 L151.33,454.56 L152.44,454.58 L153.56,454.60 L154.67,454.62 L155.78,454.64 L156.89,454.66 L158.00,454.68 L159.11,454.70 L160.22,454.73 L161.33,454.76 L162.44,454.78 L163.56,454.82 L164.67,454.85 L165.78,454.88 L166.89,454.92 L168.00,454.96 L169.11,455.00 L170.22,455.04 L171.33,455.09 L172.44,455.14 L173.56,455.19 L174.67,455.25 L175.78,455.31 L176.89,455.37 L178.00,455.44 L179.11,455.52 L180.22,455.59 L181.33,455.68 L182.44,455.77 L183.56,455.86 L184.67,455.96 L185.78,456.07 L186.89,456.19 L188.00,456.31 L189.11,456.45 L190.22,456.59 L191.33,456.74 L192.44,456.90 L193.56,457.08 L194.67,457.27 L195.78,457.47 L196.89,457.69 L198.00,457.93 L199.11,458.18 L200.22,458.46 L201.33,458.75 L202.44,459.07 L203.56,459.42 L204.67,459.80 L205.78,460.21 L206.89,460.66 L208.00,461.16 L209.11,461.70 L210.22,462.30 L211.33,462.96 L212.44,463.69 L213.56,464.51 L214.67,465.43 L215.78,466.47 L216.89,467.65 L218.00,469.02 L218.00,469.02 L218.06,469.10 L218.12,469.19 L218.18,469.27 L218.24,469.35 L218.30,469.43 L218.36,469.52 L218.42,469.60 L218.48,469.69 L218.54,469.77 L218.60,469.86 L218.66,469.95 L218.72,470.03 L218.78,470.12 L218.84,470.21 L218.90,470.30 L218.96,470.40 L219.02,470.49 L219.08,470.58 L219.14,470.68 L219.20,470.77 L219.26,470.87 L219.32,470.96 L219.38,471.06 L219.44,471.16 L219.51,471.26 L219.57,471.36 L219.63,471.46 L219.69,471.57 L219.75,471.67 L219.81,471.77 L219.87,471.88 L219.93,471.99 L219.99,472.10 L220.05,472.20 L220.11,472.32 L220.17,472.43 L220.23,472.54 L220.29,472.65 L220.35,472.77 L220.41,472.88 L220.47,473.00 L220.53,473.12 L220.59,473.24 L220.65,473.36 L220.71,473.49 L220.77,473.61 L220.83,473.74 L220.89,473.86 L220.95,473.99 L221.01,474.12 L221.07,474.25 L221.13,474.39 L221.19,474.52 L221.25,474.66 L221.31,474.80 L221.37,474.94 L221.43,475.08 L221.49,475.22 L221.55,475.37 L221.61,475.51 L221.67,475.66 L221.73,475.81 L221.79,475.97 L221.85,476.12 L221.91,476.28 L221.97,476.44 L222.03,476.60 L222.09,476.76 L222.15,476.93 L222.21,477.10 L222.27,477.27 L222.33,477.44 L222.39,477.62 L222.45,477.80 L222.52,477.98 L222.58,478.16 L222.64,478.35 L222.70,478.54 L222.76,478.73 L222.82,478.93 L222.88,479.12 L222.94,479.33 L223.00,479.53 L223.06,479.74 L223.12,479.95 L223.18,480.17 L223.24,480.39 L223.30,480.61 L223.36,480.84 L223.42,481.07 L223.48,481.31 L223.54,481.55 L223.60,481.80 L223.66,482.05 L223.72,482.30 L223.78,482.56 L223.84,482.83 L223.90,483.10 L223.96,483.38 L224.02,483.66 L224.08,483.95 L224.14,484.25 L224.20,484.55 L224.26,484.86 L224.32,485.18 L224.38,485.50 L224.44,485.84 L224.50,486.18 L224.56,486.53 L224.62,486.89 L224.68,487.26 L224.74,487.64 L224.80,488.03 L224.86,488.43 L224.92,488.85 L224.98,489.27 L225.04,489.72 L225.10,490.17 L225.16,490.64 L225.22,491.13 L225.28,491.64 L225.34,492.16 L225.40,492.71 L225.46,493.27 L225.53,493.86 L225.59,494.48 L225.65,495.12 L225.71,495.80 L225.77,496.51 L225.83,497.25 L225.89,498.04 L225.95,498.86 L226.01,499.74 L226.07,500.68 L226.13,501.68 L226.19,502.76 L226.25,503.91 L226.31,505.00 L226.37,505.00 L226.43,505.00 L226.49,505.00 L226.55,505.00 L226.61,505.00 L226.67,505.00 L226.73,505.00 L226.79,505.00 L226.85,505.00 L226.91,505.00 L226.97,505.00 L227.03,505.00 L227.09,505.00 L227.15,505.00 L227.21,505.00 L227.27,505.00 L227.33,505.00 L227.39,505.00 L227.45,505.00 L227.51,505.00 L227.57,505.00 L227.63,505.00 L227.69,504.60 L227.75,503.29 L227.81,502.08 L227.87,500.96 L227.93,499.91 L227.99,498.92 L228.05,497.99 L228.11,497.11 L228.17,496.28 L228.23,495.49 L228.29,494.73 L228.35,494.00 L228.41,493.31 L228.47,492.64 L228.54,492.00 L228.60,491.39 L228.66,490.79 L228.72,490.22 L228.78,489.66 L228.84,489.12 L228.90,488.60 L228.96,488.10 L229.02,487.61 L229.08,487.13 L229.14,486.66 L229.20,486.21 L229.26,485.77 L229.32,485.34 L229.38,484.92 L229.44,484.51 L229.50,484.11 L229.56,483.72 L229.62,483.34 L229.68,482.96 L229.74,482.59 L229.80,482.23 L229.86,481.88 L229.92,481.54 L229.98,481.20 L230.04,480.86 L230.10,480.54 L230.16,480.22 L230.22,479.90 L230.28,479.59 L230.34,479.28 L230.40,478.98 L230.46,478.69 L230.52,478.40 L230.58,478.11 L230.64,477.83 L230.70,477.55 L230.76,477.28 L230.82,477.01 L230.88,476.74 L230.94,476.48 L231.00,476.22 L231.06,475.97 L231.12,475.71 L231.18,475.47 L231.24,475.22 L231.30,474.98 L231.36,474.74 L231.42,474.50 L231.48,474.27 L231.55,474.04 L231.61,473.81 L231.67,473.58 L231.73,473.36 L231.79,473.14 L231.85,472.92 L231.91,472.71 L231.97,472.49 L232.03,472.28 L232.09,472.07 L232.15,471.87 L232.21,471.66 L232.27,471.46 L232.33,471.26 L232.39,471.06 L232.45,470.86 L232.51,470.67 L232.57,470.47 L232.63,470.28 L232.69,470.09 L232.75,469.90 L232.81,469.72 L232.87,469.53 L232.93,469.35 L232.99,469.17 L233.05,468.99 L233.11,468.81 L233.17,468.63 L233.23,468.46 L233.29,468.28 L233.35,468.11 L233.41,467.94 L233.47,467.77 L233.53,467.60 L233.59,467.43 L233.65,467.27 L233.71,467.10 L233.77,466.94 L233.83,466.78 L233.89,466.61 L233.95,466.45 L234.01,466.30 L234.07,466.14 L234.13,465.98 L234.19,465.83 L234.25,465.67 L234.31,465.52 L234.37,465.36 L234.43,465.21 L234.49,465.06 L234.56,464.91 L234.62,464.76 L234.68,464.62 L234.74,464.47 L234.80,464.32 L234.86,464.18 L234.92,464.04 L234.98,463.89 L235.04,463.75 L235.10,463.61 L235.16,463.47 L235.22,463.33 L235.28,463.19 L235.34,463.05 L235.40,462.91 L235.46,462.78 L235.52,462.64 L235.58,462.51 L235.64,462.37 L235.70,462.24 L235.76,462.11 L235.82,461.97 L235.88,461.84 L235.94,461.71 L236.00,461.58 L236.00,461.58 L237.00,459.51 L238.00,457.60 L239.00,455.80 L240.00,454.11 L241.00,452.51 L242.00,450.98 L243.00,449.52 L244.00,448.11 L245.00,446.76 L246.00,445.44 L247.00,444.17 L248.00,442.93 L249.00,441.73 L250.00,440.55 L251.00,439.40 L252.00,438.27 L253.00,437.16 L254.00,436.07 L255.00,435.00 L256.00,433.94 L257.00,432.90 L258.00,431.88 L259.00,430.86 L260.00,429.86 L261.00,428.87 L262.00,427.89 L263.00,426.92 L264.00,425.96 L265.00,425.01 L266.00,424.06 L267.00,423.12 L268.00,422.19 L269.00,421.26 L270.00,420.34 L271.00,419.43 L272.00,418.52 L273.00,417.61 L274.00,416.71 L275.00,415.81 L276.00,414.92 L277.00,414.03 L278.00,413.15 L279.00,412.26 L280.00,411.38 L281.00,410.51 L282.00,409.63 L283.00,408.76 L284.00,407.89 L285.00,407.03 L286.00,406.16 L287.00,405.30 L288.00,404.44 L289.00,403.58 L290.00,402.73 L291.00,401.87 L292.00,401.02 L293.00,400.17 L294.00,399.32 L295.00,398.47 L296.00,397.62 L297.00,396.77 L298.00,395.92 L299.00,395.08 L300.00,394.23 L301.00,393.39 L302.00,392.55 L303.00,391.71 L304.00,390.87 L305.00,390.03 L306.00,389.19 L307.00,388.35 L308.00,387.51 L309.00,386.67 L310.00,385.84 L311.00,385.00 L312.00,384.16 L313.00,383.33 L314.00,382.49 L315.00,381.66 L316.00,380.83 L317.00,379.99 L318.00,379.16 L319.00,378.33 L320.00,377.49 L321.00,376.66 L322.00,375.83 L323.00,375.00 L324.00,374.16 L325.00,373.33 L326.00,372.50 L327.00,371.67 L328.00,370.84 L329.00,370.01 L330.00,369.18 L331.00,368.35 L332.00,367.52 L333.00,366.69 L334.00,365.86 L335.00,365.03 L336.00,364.20 L337.00,363.37 L338.00,362.54 L339.00,361.71 L340.00,360.88 L341.00,360.06 L342.00,359.23 L343.00,358.40 L344.00,357.57 L345.00,356.74 L346.00,355.91 L347.00,355.08 L348.00,354.26 L349.00,353.43 L350.00,352.60 L351.00,351.77 L352.00,350.94 L353.00,350.12 L354.00,349.29 L355.00,348.46 L356.00,347.63 L357.00,346.80 L358.00,345.98 L359.00,345.15 L360.00,344.32 L361.00,343.49 L362.00,342.67 L363.00,341.84 L364.00,341.01 L365.00,340.18 L366.00,339.36 L367.00,338.53 L368.00,337.70 L369.00,336.87 L370.00,336.05 L371.00,335.22 L372.00,334.39 L373.00,333.56 L374.00,332.74 L375.00,331.91 L376.00,331.08 L377.00,330.25 L378.00,329.43 L379.00,328.60 L380.00,327.77 L381.00,326.95 L382.00,326.12 L383.00,325.29 L384.00,324.46 L385.00,323.64 L385.00,323.64 L386.20,322.65 L387.39,321.66 L388.59,320.67 L389.78,319.68 L390.98,318.69 L392.18,317.70 L393.37,316.71 L394.56,315.71 L395.75,314.72 L396.95,313.72 L398.15,312.74 L399.35,311.76 L400.56,310.78 L401.77,309.82 L403.00,308.86 L404.22,307.91 L405.45,306.96 L406.68,306.01 L407.91,305.07 L409.15,304.13 L410.38,303.19 L411.62,302.25 L412.85,301.30 L414.08,300.36 L415.32,299.42 L416.55,298.47 L417.79,297.53 L419.02,296.59 L420.26,295.66 L421.50,294.72 L422.75,293.80 L423.99,292.87 L425.24,291.95 L426.50,291.03 L427.75,290.12 L429.00,289.20 L430.26,288.29 L431.52,287.39 L432.79,286.49 L434.06,285.60 L435.34,284.72 L436.63,283.85 L437.92,282.99 L439.21,282.12 L440.50,281.26 L441.81,280.41 L443.11,279.56 L444.43,278.73 L445.76,277.93 L447.10,277.15 L448.45,276.40 L449.81,275.67 L451.19,274.92 L452.58,274.18 L453.98,273.46 L455.40,272.80 L456.83,272.22 L458.28,271.74 L459.76,271.35 L461.28,270.98 L462.82,270.65 L464.36,270.41 L465.90,270.30 L467.46,270.41 L469.01,270.72 L470.44,271.16 L471.77,271.98 L472.99,273.02 L474.10,274.08 L475.13,275.26 L476.08,276.51 L476.93,277.80 L477.71,279.14 L478.44,280.52 L479.09,281.94 L479.67,283.38 L480.17,284.84 L480.63,286.33 L481.02,287.84 L481.37,289.35 L481.68,290.87 L481.97,292.40 L482.21,293.94 L482.41,295.47 L482.57,297.01 L482.73,298.56 L482.87,300.10 L483.01,301.65 L483.13,303.20 L483.24,304.75 L483.33,306.30 L483.41,307.85 L483.48,309.41 L483.53,310.96 L483.58,312.51 L483.63,314.06 L483.68,315.61 L483.72,317.16 L483.77,318.71 L483.81,320.26 L483.84,321.81 L483.88,323.37 L483.91,324.92 L483.95,326.47 L483.97,328.03 L484.00,329.58 L484.02,331.13 L484.04,332.68 L484.06,334.24 L484.08,335.79 L484.09,337.34 L484.10,338.89 L484.10,340.45 L484.11,342.00 L484.11,343.55 L484.11,345.10 L484.12,346.66 L484.12,348.21 L484.13,349.76 L484.13,351.31 L484.13,352.86 L484.14,354.42 L484.14,355.97 L484.15,357.52 L484.15,359.07 L484.15,360.63 L484.16,362.18 L484.16,363.73 L484.16,365.28 L484.17,366.83 L484.17,368.39 L484.17,369.94 L484.18,371.49 L484.18,373.04 L484.18,374.60 L484.19,376.15 L484.19,377.70 L484.19,379.25 L484.20,380.80 L484.20,382.36 L484.20,383.91 L484.21,385.46 L484.21,387.01 L484.21,388.57 L484.21,390.12 L484.22,391.67 L484.22,393.22 L484.22,394.78 L484.22,396.33 L484.23,397.88 L484.23,399.43 L484.23,400.98 L484.23,402.54 L484.24,404.09 L484.24,405.64 L484.24,407.19 L484.24,408.75 L484.24,410.30 L484.25,411.85 L484.25,413.40 L484.25,414.96 L484.25,416.51 L484.25,418.06 L484.26,419.61 L484.26,421.16 L484.26,422.72 L484.26,424.27 L484.26,425.82 L484.26,427.37 L484.27,428.93 L484.27,430.48 L484.27,432.03 L484.27,433.58 L484.27,435.14 L484.27,436.69 L484.27,438.24 L484.28,439.79 L484.28,441.35 L484.28,442.90 L484.28,444.45 L484.28,446.00 L484.28,447.56 L484.28,449.11 L484.28,450.66 L484.28,452.21 L484.29,453.77 L484.29,455.32 L484.29,456.87 L484.29,458.42 L484.29,459.98 L484.29,461.53 L484.29,463.08 L484.29,464.63 L484.29,466.19 L484.29,467.74 L484.29,469.29 L484.29,470.84 L484.29,472.40 L484.30,473.95 L484.30,475.50 L484.30,477.05 L484.30,478.61 L484.30,480.16 L484.30,481.71 L484.30,483.26 L484.30,484.82 L484.30,486.37 L484.30,487.92 L484.30,489.47 L484.30,491.03 L484.30,492.58 L484.30,494.13 L484.30,495.68 L484.30,497.24 L484.30,498.79 L484.30,500.34 L484.30,501.89 L484.30,503.45 L484.30,505.00"/>
<path d="M484.30,505.00 L484.35,350.45 L484.40,339.78 L484.45,333.53 L484.50,329.10 L484.55,325.66 L484.60,322.84 L484.65,320.46 L484.70,318.39 L484.75,316.57 L484.80,314.94 L484.85,313.47 L484.90,312.12 L484.95,310.87 L485.00,309.73 L485.05,308.65 L485.10,307.65 L485.15,306.71 L485.20,305.82 L485.25,304.98 L485.30,304.18 L485.35,303.42 L485.40,302.70 L485.45,302.00 L485.50,301.34 L485.55,300.70 L485.60,300.09 L485.65,299.50 L485.70,298.94 L485.75,298.39 L485.80,297.86 L485.85,297.35 L485.90,296.85 L485.95,296.37 L486.00,295.91 L486.05,295.45 L486.10,295.01 L486.15,294.59 L486.20,294.17 L486.25,293.76 L486.29,293.37 L486.34,292.98 L486.39,292.61 L486.44,292.24 L486.49,291.88 L486.54,291.53 L486.59,291.19 L486.64,290.85 L486.69,290.52 L486.74,290.20 L486.79,289.89 L486.84,289.58 L486.89,289.28 L486.94,288.98 L486.99,288.69 L487.04,288.41 L487.09,288.13 L487.14,287.85 L487.19,287.58 L487.24,287.32 L487.29,287.06 L487.34,286.80 L487.39,286.55 L487.44,286.30 L487.49,286.06 L487.54,285.82 L487.59,285.58 L487.64,285.35 L487.69,285.12 L487.74,284.90 L487.79,284.68 L487.84,284.46 L487.89,284.25 L487.94,284.03 L487.99,283.83 L488.04,283.62 L488.09,283.42 L488.14,283.22 L488.19,283.02 L488.24,282.83 L488.29,282.64 L488.34,282.45 L488.39,282.26 L488.44,282.08 L488.49,281.90 L488.54,281.72 L488.59,281.55 L488.64,281.37 L488.69,281.20 L488.74,281.03 L488.79,280.87 L488.84,280.70 L488.89,280.54 L488.94,280.38 L488.99,280.22 L489.04,280.06 L489.09,279.91 L489.14,279.76 L489.19,279.61 L489.24,279.46 L489.29,279.31 L489.34,279.16 L489.39,279.02 L489.44,278.88 L489.49,278.74 L489.54,278.60 L489.59,278.46 L489.64,278.33 L489.69,278.20 L489.74,278.06 L489.79,277.93 L489.84,277.81 L489.89,277.68 L489.94,277.55 L489.99,277.43 L490.04,277.31 L490.09,277.18 L490.14,277.07 L490.19,276.95 L490.24,276.83 L490.28,276.71 L490.33,276.60 L490.38,276.49 L490.43,276.38 L490.48,276.27 L490.53,276.16 L490.58,276.05 L490.63,275.94 L490.68,275.84 L490.73,275.74 L490.78,275.63 L490.83,275.53 L490.88,275.43 L490.93,275.33 L490.98,275.24 L491.03,275.14 L491.08,275.04 L491.13,274.95 L491.18,274.86 L491.23,274.77 L491.28,274.67 L491.33,274.59 L491.38,274.50 L491.43,274.41 L491.48,274.32 L491.53,274.24 L491.58,274.15 L491.63,274.07 L491.68,273.99 L491.73,273.91 L491.78,273.83 L491.83,273.75 L491.88,273.67 L491.93,273.60 L491.98,273.52 L492.03,273.45 L492.08,273.37 L492.13,273.30 L492.18,273.23 L492.23,273.16 L492.28,273.09 L492.33,273.02 L492.38,272.95 L492.43,272.89 L492.48,272.82 L492.53,272.76 L492.58,272.70 L492.63,272.63 L492.68,272.57 L492.73,272.51 L492.78,272.45 L492.83,272.39 L492.88,272.34 L492.93,272.28 L492.98,272.22 L493.03,272.17 L493.08,272.11 L493.13,272.06 L493.18,272.01 L493.23,271.96 L493.28,271.91 L493.33,271.86 L493.38,271.81 L493.43,271.76 L493.48,271.72 L493.53,271.67 L493.58,271.63 L493.63,271.58 L493.68,271.54 L493.73,271.50 L493.78,271.46 L493.83,271.42 L493.88,271.38 L493.93,271.34 L493.98,271.31 L494.03,271.27 L494.08,271.23 L494.13,271.20 L494.18,271.17 L494.23,271.13 L494.27,271.10 L494.32,271.07 L494.37,271.04 L494.42,271.01 L494.47,270.99 L494.52,270.96 L494.57,270.93 L494.62,270.91 L494.67,270.89 L494.72,270.86 L494.77,270.84 L494.82,270.82 L494.87,270.80 L494.92,270.78 L494.97,270.76 L495.02,270.74 L495.07,270.73 L495.12,270.71 L495.17,270.70 L495.22,270.69 L495.27,270.67 L495.32,270.66 L495.37,270.65 L495.42,270.64 L495.47,270.63 L495.52,270.63 L495.57,270.62 L495.62,270.61 L495.67,270.61 L495.72,270.60 L495.77,270.60 L495.82,270.60 L495.87,270.60 L495.92,270.60 L495.97,270.60 L496.02,270.60 L496.07,270.61 L496.12,270.61 L496.17,270.62 L496.22,270.63 L496.27,270.63 L496.32,270.64 L496.37,270.65 L496.42,270.66 L496.47,270.67 L496.52,270.69 L496.57,270.70 L496.62,270.72 L496.67,270.73 L496.72,270.75 L496.77,270.77 L496.82,270.79 L496.87,270.81 L496.92,270.83 L496.97,270.86 L497.02,270.88 L497.07,270.91 L497.12,270.94 L497.17,270.96 L497.22,270.99 L497.27,271.02 L497.32,271.06 L497.37,271.09 L497.42,271.12 L497.47,271.16 L497.52,271.20 L497.57,271.23 L497.62,271.27 L497.67,271.31 L497.72,271.36 L497.77,271.40 L497.82,271.45 L497.87,271.49 L497.92,271.54 L497.97,271.59 L498.02,271.64 L498.07,271.69 L498.12,271.74 L498.17,271.80 L498.22,271.86 L498.26,271.91 L498.31,271.97 L498.36,272.03 L498.41,272.10 L498.46,272.16 L498.51,272.23 L498.56,272.29 L498.61,272.36 L498.66,272.43 L498.71,272.51 L498.76,272.58 L498.81,272.66 L498.86,272.73 L498.91,272.81 L498.96,272.89 L499.01,272.98 L499.06,273.06 L499.11,273.15 L499.16,273.24 L499.21,273.33 L499.26,273.42 L499.31,273.51 L499.36,273.61 L499.41,273.71 L499.46,273.81 L499.51,273.91 L499.56,274.02 L499.61,274.13 L499.66,274.23 L499.71,274.35 L499.76,274.46 L499.81,274.58 L499.86,274.70 L499.91,274.82 L499.96,274.94 L500.01,275.07 L500.06,275.20 L500.11,275.33 L500.16,275.46 L500.21,275.60 L500.26,275.74 L500.31,275.89 L500.36,276.03 L500.41,276.18 L500.46,276.33 L500.51,276.49 L500.56,276.65 L500.61,276.81 L500.66,276.97 L500.71,277.14 L500.76,277.32 L500.81,277.49 L500.86,277.67 L500.91,277.86 L500.96,278.05 L501.01,278.24 L501.06,278.43 L501.11,278.63 L501.16,278.84 L501.21,279.05 L501.26,279.26 L501.31,279.48 L501.36,279.71 L501.41,279.94 L501.46,280.17 L501.51,280.41 L501.56,280.66 L501.61,280.91 L501.66,281.17 L501.71,281.43 L501.76,281.71 L501.81,281.98 L501.86,282.27 L501.91,282.56 L501.96,282.86 L502.01,283.17 L502.06,283.49 L502.11,283.82 L502.16,284.15 L502.21,284.50 L502.25,284.85 L502.30,285.22 L502.35,285.59 L502.40,285.98 L502.45,286.38 L502.50,286.80 L502.55,287.22 L502.60,287.67 L502.65,288.13 L502.70,288.60 L502.75,289.09 L502.80,289.60 L502.85,290.13 L502.90,290.69 L502.95,291.26 L503.00,291.86 L503.05,292.49 L503.10,293.15 L503.15,293.84 L503.20,294.57 L503.25,295.33 L503.30,296.14 L503.35,296.99 L503.40,297.90 L503.45,298.88 L503.50,299.91 L503.55,301.03 L503.60,302.24 L503.65,303.56 L503.70,305.01 L503.75,306.61 L503.80,308.40 L503.85,310.44 L503.90,312.79 L503.95,315.58 L504.00,318.99 L504.05,323.40 L504.10,329.62 L504.15,340.27 L504.20,505.00"/>
<path d="M504.20,505.00 L504.23,348.80 L504.27,338.14 L504.30,331.90 L504.33,327.47 L504.37,324.03 L504.40,321.22 L504.43,318.84 L504.47,316.78 L504.50,314.96 L504.53,313.34 L504.57,311.87 L504.60,310.52 L504.63,309.29 L504.67,308.14 L504.70,307.07 L504.73,306.08 L504.77,305.14 L504.80,304.26 L504.83,303.42 L504.87,302.63 L504.90,301.87 L504.93,301.15 L504.97,300.47 L505.00,299.81 L505.03,299.18 L505.07,298.57 L505.10,297.99 L505.13,297.42 L505.17,296.88 L505.20,296.36 L505.23,295.85 L505.27,295.36 L505.30,294.89 L505.33,294.43 L505.37,293.98 L505.40,293.55 L505.43,293.12 L505.47,292.71 L505.50,292.31 L505.53,291.92 L505.57,291.55 L505.60,291.18 L505.63,290.81 L505.67,290.46 L505.70,290.12 L505.73,289.78 L505.77,289.45 L505.80,289.13 L505.83,288.81 L505.87,288.51 L505.90,288.20 L505.93,287.91 L505.97,287.62 L506.00,287.33 L506.03,287.06 L506.07,286.78 L506.10,286.51 L506.13,286.25 L506.17,285.99 L506.20,285.74 L506.23,285.49 L506.27,285.24 L506.30,285.00 L506.33,284.77 L506.37,284.54 L506.40,284.31 L506.43,284.08 L506.47,283.86 L506.50,283.64 L506.53,283.43 L506.57,283.22 L506.60,283.01 L506.63,282.81 L506.67,282.61 L506.70,282.41 L506.73,282.21 L506.77,282.02 L506.80,281.83 L506.83,281.65 L506.87,281.46 L506.90,281.28 L506.93,281.10 L506.97,280.93 L507.00,280.76 L507.03,280.58 L507.07,280.42 L507.10,280.25 L507.13,280.09 L507.17,279.93 L507.20,279.77 L507.23,279.61 L507.27,279.45 L507.30,279.30 L507.33,279.15 L507.37,279.00 L507.40,278.86 L507.43,278.71 L507.47,278.57 L507.50,278.43 L507.53,278.29 L507.57,278.15 L507.60,278.02 L507.63,277.88 L507.67,277.75 L507.70,277.62 L507.73,277.49 L507.77,277.37 L507.80,277.24 L507.83,277.12 L507.87,277.00 L507.90,276.88 L507.93,276.76 L507.97,276.64 L508.00,276.52 L508.03,276.41 L508.07,276.30 L508.10,276.19 L508.13,276.08 L508.17,275.97 L508.20,275.86 L508.23,275.76 L508.27,275.65 L508.30,275.55 L508.33,275.45 L508.37,275.35 L508.40,275.25 L508.43,275.15 L508.47,275.06 L508.50,274.96 L508.53,274.87 L508.57,274.78 L508.60,274.69 L508.63,274.60 L508.67,274.51 L508.70,274.42 L508.73,274.33 L508.77,274.25 L508.80,274.17 L508.83,274.08 L508.87,274.00 L508.90,273.92 L508.93,273.84 L508.97,273.76 L509.00,273.69 L509.03,273.61 L509.07,273.54 L509.10,273.46 L509.13,273.39 L509.17,273.32 L509.20,273.25 L509.23,273.18 L509.27,273.11 L509.30,273.05 L509.33,272.98 L509.37,272.92 L509.40,272.85 L509.43,272.79 L509.47,272.73 L509.50,272.67 L509.53,272.61 L509.57,272.55 L509.60,272.49 L509.63,272.43 L509.67,272.38 L509.70,272.32 L509.73,272.27 L509.77,272.22 L509.80,272.17 L509.83,272.12 L509.87,272.07 L509.90,272.02 L509.93,271.97 L509.97,271.92 L510.00,271.88 L510.03,271.83 L510.07,271.79 L510.10,271.75 L510.13,271.70 L510.17,271.66 L510.20,271.62 L510.23,271.58 L510.27,271.55 L510.30,271.51 L510.33,271.47 L510.37,271.44 L510.40,271.40 L510.43,271.37 L510.47,271.34 L510.50,271.31 L510.53,271.28 L510.57,271.25 L510.60,271.22 L510.63,271.19 L510.67,271.16 L510.70,271.14 L510.73,271.11 L510.77,271.09 L510.80,271.07 L510.83,271.04 L510.87,271.02 L510.90,271.00 L510.93,270.98 L510.97,270.96 L511.00,270.95 L511.03,270.93 L511.07,270.92 L511.10,270.90 L511.13,270.89 L511.17,270.88 L511.20,270.86 L511.23,270.85 L511.27,270.84 L511.30,270.83 L511.33,270.83 L511.37,270.82 L511.40,270.81 L511.43,270.81 L511.47,270.81 L511.50,270.80 L511.53,270.80 L511.57,270.80 L511.60,270.80 L511.63,270.80 L511.67,270.80 L511.70,270.81 L511.73,270.81 L511.77,270.82 L511.80,270.82 L511.83,270.83 L511.87,270.84 L511.90,270.85 L511.93,270.86 L511.97,270.87 L512.00,270.88 L512.03,270.89 L512.07,270.91 L512.10,270.92 L512.13,270.94 L512.17,270.96 L512.20,270.97 L512.23,270.99 L512.27,271.01 L512.30,271.04 L512.33,271.06 L512.37,271.08 L512.40,271.11 L512.43,271.13 L512.47,271.16 L512.50,271.19 L512.53,271.22 L512.57,271.25 L512.60,271.28 L512.63,271.31 L512.67,271.35 L512.70,271.38 L512.73,271.42 L512.77,271.46 L512.80,271.50 L512.83,271.54 L512.87,271.58 L512.90,271.62 L512.93,271.66 L512.97,271.71 L513.00,271.75 L513.03,271.80 L513.07,271.85 L513.10,271.90 L513.13,271.95 L513.17,272.00 L513.20,272.06 L513.23,272.11 L513.27,272.17 L513.30,272.23 L513.33,272.29 L513.37,272.35 L513.40,272.41 L513.43,272.48 L513.47,272.54 L513.50,272.61 L513.53,272.68 L513.57,272.75 L513.60,272.82 L513.63,272.89 L513.67,272.96 L513.70,273.04 L513.73,273.12 L513.77,273.20 L513.80,273.28 L513.83,273.36 L513.87,273.45 L513.90,273.53 L513.93,273.62 L513.97,273.71 L514.00,273.80 L514.03,273.89 L514.07,273.99 L514.10,274.08 L514.13,274.18 L514.17,274.28 L514.20,274.39 L514.23,274.49 L514.27,274.60 L514.30,274.71 L514.33,274.82 L514.37,274.93 L514.40,275.04 L514.43,275.16 L514.47,275.28 L514.50,275.40 L514.53,275.53 L514.57,275.65 L514.60,275.78 L514.63,275.91 L514.67,276.05 L514.70,276.18 L514.73,276.32 L514.77,276.46 L514.80,276.61 L514.83,276.75 L514.87,276.90 L514.90,277.06 L514.93,277.21 L514.97,277.37 L515.00,277.53 L515.03,277.70 L515.07,277.86 L515.10,278.04 L515.13,278.21 L515.17,278.39 L515.20,278.57 L515.23,278.76 L515.27,278.94 L515.30,279.14 L515.33,279.33 L515.37,279.54 L515.40,279.74 L515.43,279.95 L515.47,280.16 L515.50,280.38 L515.53,280.61 L515.57,280.83 L515.60,281.07 L515.63,281.30 L515.67,281.55 L515.70,281.80 L515.73,282.05 L515.77,282.31 L515.80,282.58 L515.83,282.85 L515.87,283.13 L515.90,283.42 L515.93,283.71 L515.97,284.01 L516.00,284.32 L516.03,284.64 L516.07,284.96 L516.10,285.30 L516.13,285.64 L516.17,285.99 L516.20,286.35 L516.23,286.73 L516.27,287.11 L516.30,287.51 L516.33,287.92 L516.37,288.34 L516.40,288.77 L516.43,289.22 L516.47,289.69 L516.50,290.17 L516.53,290.67 L516.57,291.18 L516.60,291.72 L516.63,292.28 L516.67,292.86 L516.70,293.47 L516.73,294.11 L516.77,294.77 L516.80,295.47 L516.83,296.20 L516.87,296.97 L516.90,297.78 L516.93,298.65 L516.97,299.56 L517.00,300.54 L517.03,301.58 L517.07,302.71 L517.10,303.92 L517.13,305.25 L517.17,306.70 L517.20,308.31 L517.23,310.10 L517.27,312.14 L517.30,314.50 L517.33,317.29 L517.37,320.71 L517.40,325.13 L517.43,331.35 L517.47,342.00 L517.50,505.00"/>
<path d="M517.50,505.00 L517.52,347.74 L517.55,337.07 L517.57,330.84 L517.59,326.41 L517.61,322.97 L517.64,320.16 L517.66,317.79 L517.68,315.73 L517.70,313.92 L517.73,312.30 L517.75,310.83 L517.77,309.49 L517.79,308.25 L517.82,307.11 L517.84,306.05 L517.86,305.05 L517.88,304.12 L517.91,303.24 L517.93,302.41 L517.95,301.62 L517.97,300.87 L518.00,300.15 L518.02,299.47 L518.04,298.81 L518.06,298.18 L518.09,297.58 L518.11,297.00 L518.13,296.44 L518.15,295.91 L518.18,295.39 L518.20,294.88 L518.22,294.40 L518.24,293.93 L518.27,293.47 L518.29,293.03 L518.31,292.60 L518.33,292.18 L518.36,291.77 L518.38,291.38 L518.40,290.99 L518.42,290.61 L518.45,290.25 L518.47,289.89 L518.49,289.54 L518.52,289.20 L518.54,288.87 L518.56,288.54 L518.58,288.23 L518.61,287.92 L518.63,287.61 L518.65,287.31 L518.67,287.02 L518.70,286.74 L518.72,286.46 L518.74,286.18 L518.76,285.91 L518.79,285.65 L518.81,285.39 L518.83,285.14 L518.85,284.89 L518.88,284.64 L518.90,284.40 L518.92,284.17 L518.94,283.94 L518.97,283.71 L518.99,283.48 L519.01,283.26 L519.03,283.05 L519.06,282.84 L519.08,282.63 L519.10,282.42 L519.12,282.22 L519.15,282.02 L519.17,281.82 L519.19,281.63 L519.21,281.44 L519.24,281.25 L519.26,281.07 L519.28,280.89 L519.30,280.71 L519.33,280.53 L519.35,280.36 L519.37,280.19 L519.39,280.02 L519.42,279.86 L519.44,279.69 L519.46,279.53 L519.48,279.37 L519.51,279.22 L519.53,279.06 L519.55,278.91 L519.58,278.76 L519.60,278.62 L519.62,278.47 L519.64,278.33 L519.67,278.19 L519.69,278.05 L519.71,277.91 L519.73,277.77 L519.76,277.64 L519.78,277.51 L519.80,277.38 L519.82,277.25 L519.85,277.12 L519.87,277.00 L519.89,276.88 L519.91,276.76 L519.94,276.64 L519.96,276.52 L519.98,276.40 L520.00,276.29 L520.03,276.18 L520.05,276.06 L520.07,275.95 L520.09,275.85 L520.12,275.74 L520.14,275.63 L520.16,275.53 L520.18,275.43 L520.21,275.33 L520.23,275.23 L520.25,275.13 L520.27,275.03 L520.30,274.94 L520.32,274.84 L520.34,274.75 L520.36,274.66 L520.39,274.57 L520.41,274.48 L520.43,274.39 L520.45,274.31 L520.48,274.22 L520.50,274.14 L520.52,274.06 L520.55,273.97 L520.57,273.89 L520.59,273.82 L520.61,273.74 L520.64,273.66 L520.66,273.59 L520.68,273.51 L520.70,273.44 L520.73,273.37 L520.75,273.30 L520.77,273.23 L520.79,273.16 L520.82,273.09 L520.84,273.03 L520.86,272.96 L520.88,272.90 L520.91,272.84 L520.93,272.77 L520.95,272.71 L520.97,272.65 L521.00,272.60 L521.02,272.54 L521.04,272.48 L521.06,272.43 L521.09,272.37 L521.11,272.32 L521.13,272.27 L521.15,272.22 L521.18,272.17 L521.20,272.12 L521.22,272.07 L521.24,272.02 L521.27,271.97 L521.29,271.93 L521.31,271.89 L521.33,271.84 L521.36,271.80 L521.38,271.76 L521.40,271.72 L521.42,271.68 L521.45,271.64 L521.47,271.60 L521.49,271.57 L521.52,271.53 L521.54,271.50 L521.56,271.47 L521.58,271.43 L521.61,271.40 L521.63,271.37 L521.65,271.34 L521.67,271.31 L521.70,271.29 L521.72,271.26 L521.74,271.23 L521.76,271.21 L521.79,271.19 L521.81,271.16 L521.83,271.14 L521.85,271.12 L521.88,271.10 L521.90,271.08 L521.92,271.06 L521.94,271.05 L521.97,271.03 L521.99,271.01 L522.01,271.00 L522.03,270.99 L522.06,270.97 L522.08,270.96 L522.10,270.95 L522.12,270.94 L522.15,270.93 L522.17,270.93 L522.19,270.92 L522.21,270.91 L522.24,270.91 L522.26,270.91 L522.28,270.90 L522.30,270.90 L522.33,270.90 L522.35,270.90 L522.37,270.90 L522.39,270.90 L522.42,270.91 L522.44,270.91 L522.46,270.92 L522.48,270.92 L522.51,270.93 L522.53,270.94 L522.55,270.94 L522.58,270.95 L522.60,270.97 L522.62,270.98 L522.64,270.99 L522.67,271.00 L522.69,271.02 L522.71,271.03 L522.73,271.05 L522.76,271.07 L522.78,271.09 L522.80,271.11 L522.82,271.13 L522.85,271.15 L522.87,271.18 L522.89,271.20 L522.91,271.22 L522.94,271.25 L522.96,271.28 L522.98,271.31 L523.00,271.34 L523.03,271.37 L523.05,271.40 L523.07,271.43 L523.09,271.47 L523.12,271.50 L523.14,271.54 L523.16,271.58 L523.18,271.61 L523.21,271.65 L523.23,271.69 L523.25,271.74 L523.27,271.78 L523.30,271.82 L523.32,271.87 L523.34,271.92 L523.36,271.96 L523.39,272.01 L523.41,272.06 L523.43,272.12 L523.45,272.17 L523.48,272.22 L523.50,272.28 L523.52,272.34 L523.55,272.39 L523.57,272.45 L523.59,272.51 L523.61,272.58 L523.64,272.64 L523.66,272.70 L523.68,272.77 L523.70,272.84 L523.73,272.91 L523.75,272.98 L523.77,273.05 L523.79,273.12 L523.82,273.20 L523.84,273.27 L523.86,273.35 L523.88,273.43 L523.91,273.51 L523.93,273.60 L523.95,273.68 L523.97,273.77 L524.00,273.85 L524.02,273.94 L524.04,274.03 L524.06,274.12 L524.09,274.22 L524.11,274.31 L524.13,274.41 L524.15,274.51 L524.18,274.61 L524.20,274.72 L524.22,274.82 L524.24,274.93 L524.27,275.04 L524.29,275.15 L524.31,275.26 L524.33,275.38 L524.36,275.49 L524.38,275.61 L524.40,275.73 L524.42,275.86 L524.45,275.98 L524.47,276.11 L524.49,276.24 L524.52,276.37 L524.54,276.51 L524.56,276.64 L524.58,276.78 L524.61,276.93 L524.63,277.07 L524.65,277.22 L524.67,277.37 L524.70,277.52 L524.72,277.68 L524.74,277.84 L524.76,278.00 L524.79,278.16 L524.81,278.33 L524.83,278.50 L524.85,278.67 L524.88,278.85 L524.90,279.03 L524.92,279.21 L524.94,279.40 L524.97,279.59 L524.99,279.79 L525.01,279.99 L525.03,280.19 L525.06,280.39 L525.08,280.61 L525.10,280.82 L525.12,281.04 L525.15,281.26 L525.17,281.49 L525.19,281.73 L525.21,281.96 L525.24,282.21 L525.26,282.46 L525.28,282.71 L525.30,282.97 L525.33,283.24 L525.35,283.51 L525.37,283.79 L525.39,284.07 L525.42,284.36 L525.44,284.66 L525.46,284.97 L525.48,285.28 L525.51,285.60 L525.53,285.93 L525.55,286.27 L525.58,286.62 L525.60,286.97 L525.62,287.34 L525.64,287.72 L525.67,288.11 L525.69,288.51 L525.71,288.92 L525.73,289.35 L525.76,289.79 L525.78,290.24 L525.80,290.71 L525.82,291.20 L525.85,291.70 L525.87,292.22 L525.89,292.76 L525.91,293.33 L525.94,293.91 L525.96,294.52 L525.98,295.16 L526.00,295.83 L526.03,296.53 L526.05,297.27 L526.07,298.04 L526.09,298.86 L526.12,299.73 L526.14,300.64 L526.16,301.62 L526.18,302.67 L526.21,303.80 L526.23,305.02 L526.25,306.35 L526.27,307.80 L526.30,309.41 L526.32,311.21 L526.34,313.26 L526.36,315.62 L526.39,318.42 L526.41,321.84 L526.43,326.25 L526.45,332.48 L526.48,343.13 L526.50,505.00"/>
<path d="M526.50,505.00 L526.52,347.07 L526.53,336.41 L526.55,330.17 L526.57,325.75 L526.58,322.31 L526.60,319.51 L526.61,317.13 L526.63,315.08 L526.65,313.27 L526.66,311.64 L526.68,310.18 L526.70,308.84 L526.71,307.61 L526.73,306.47 L526.74,305.41 L526.76,304.41 L526.78,303.48 L526.79,302.60 L526.81,301.77 L526.83,300.98 L526.84,300.24 L526.86,299.52 L526.87,298.84 L526.89,298.19 L526.91,297.56 L526.92,296.96 L526.94,296.38 L526.96,295.83 L526.97,295.29 L526.99,294.77 L527.01,294.27 L527.02,293.79 L527.04,293.32 L527.05,292.87 L527.07,292.43 L527.09,292.00 L527.10,291.58 L527.12,291.18 L527.14,290.78 L527.15,290.40 L527.17,290.03 L527.18,289.66 L527.20,289.31 L527.22,288.96 L527.23,288.63 L527.25,288.30 L527.27,287.97 L527.28,287.66 L527.30,287.35 L527.31,287.05 L527.33,286.75 L527.35,286.46 L527.36,286.18 L527.38,285.90 L527.40,285.63 L527.41,285.37 L527.43,285.11 L527.44,284.85 L527.46,284.60 L527.48,284.35 L527.49,284.11 L527.51,283.87 L527.53,283.64 L527.54,283.41 L527.56,283.18 L527.58,282.96 L527.59,282.75 L527.61,282.53 L527.62,282.32 L527.64,282.12 L527.66,281.91 L527.67,281.71 L527.69,281.52 L527.71,281.32 L527.72,281.13 L527.74,280.95 L527.75,280.76 L527.77,280.58 L527.79,280.40 L527.80,280.23 L527.82,280.06 L527.84,279.89 L527.85,279.72 L527.87,279.55 L527.88,279.39 L527.90,279.23 L527.92,279.07 L527.93,278.92 L527.95,278.77 L527.97,278.61 L527.98,278.47 L528.00,278.32 L528.02,278.18 L528.03,278.03 L528.05,277.89 L528.06,277.76 L528.08,277.62 L528.10,277.49 L528.11,277.35 L528.13,277.22 L528.15,277.09 L528.16,276.97 L528.18,276.84 L528.19,276.72 L528.21,276.60 L528.23,276.48 L528.24,276.36 L528.26,276.25 L528.28,276.13 L528.29,276.02 L528.31,275.91 L528.32,275.80 L528.34,275.69 L528.36,275.58 L528.37,275.48 L528.39,275.38 L528.41,275.27 L528.42,275.17 L528.44,275.07 L528.45,274.98 L528.47,274.88 L528.49,274.79 L528.50,274.69 L528.52,274.60 L528.54,274.51 L528.55,274.42 L528.57,274.33 L528.59,274.25 L528.60,274.16 L528.62,274.08 L528.63,274.00 L528.65,273.91 L528.67,273.83 L528.68,273.76 L528.70,273.68 L528.72,273.60 L528.73,273.53 L528.75,273.45 L528.76,273.38 L528.78,273.31 L528.80,273.24 L528.81,273.17 L528.83,273.10 L528.85,273.03 L528.86,272.97 L528.88,272.90 L528.89,272.84 L528.91,272.78 L528.93,272.72 L528.94,272.66 L528.96,272.60 L528.98,272.54 L528.99,272.48 L529.01,272.43 L529.03,272.37 L529.04,272.32 L529.06,272.27 L529.07,272.21 L529.09,272.16 L529.11,272.11 L529.12,272.07 L529.14,272.02 L529.16,271.97 L529.17,271.93 L529.19,271.88 L529.20,271.84 L529.22,271.80 L529.24,271.76 L529.25,271.72 L529.27,271.68 L529.29,271.64 L529.30,271.60 L529.32,271.56 L529.33,271.53 L529.35,271.49 L529.37,271.46 L529.38,271.43 L529.40,271.40 L529.42,271.37 L529.43,271.34 L529.45,271.31 L529.46,271.28 L529.48,271.26 L529.50,271.23 L529.51,271.21 L529.53,271.18 L529.55,271.16 L529.56,271.14 L529.58,271.12 L529.60,271.10 L529.61,271.08 L529.63,271.06 L529.64,271.04 L529.66,271.03 L529.68,271.01 L529.69,271.00 L529.71,270.98 L529.73,270.97 L529.74,270.96 L529.76,270.95 L529.77,270.94 L529.79,270.93 L529.81,270.93 L529.82,270.92 L529.84,270.91 L529.86,270.91 L529.87,270.91 L529.89,270.90 L529.90,270.90 L529.92,270.90 L529.94,270.90 L529.95,270.90 L529.97,270.90 L529.99,270.91 L530.00,270.91 L530.02,270.92 L530.04,270.92 L530.05,270.93 L530.07,270.94 L530.08,270.95 L530.10,270.96 L530.12,270.97 L530.13,270.98 L530.15,270.99 L530.17,271.00 L530.18,271.02 L530.20,271.04 L530.21,271.05 L530.23,271.07 L530.25,271.09 L530.26,271.11 L530.28,271.13 L530.30,271.15 L530.31,271.17 L530.33,271.20 L530.34,271.22 L530.36,271.25 L530.38,271.28 L530.39,271.31 L530.41,271.33 L530.43,271.37 L530.44,271.40 L530.46,271.43 L530.47,271.46 L530.49,271.50 L530.51,271.53 L530.52,271.57 L530.54,271.61 L530.56,271.65 L530.57,271.69 L530.59,271.73 L530.61,271.77 L530.62,271.81 L530.64,271.86 L530.65,271.91 L530.67,271.95 L530.69,272.00 L530.70,272.05 L530.72,272.10 L530.74,272.15 L530.75,272.21 L530.77,272.26 L530.78,272.32 L530.80,272.37 L530.82,272.43 L530.83,272.49 L530.85,272.55 L530.87,272.61 L530.88,272.68 L530.90,272.74 L530.91,272.81 L530.93,272.87 L530.95,272.94 L530.96,273.01 L530.98,273.08 L531.00,273.16 L531.01,273.23 L531.03,273.31 L531.05,273.38 L531.06,273.46 L531.08,273.54 L531.09,273.62 L531.11,273.71 L531.13,273.79 L531.14,273.88 L531.16,273.97 L531.18,274.06 L531.19,274.15 L531.21,274.24 L531.22,274.33 L531.24,274.43 L531.26,274.53 L531.27,274.63 L531.29,274.73 L531.31,274.83 L531.32,274.94 L531.34,275.04 L531.35,275.15 L531.37,275.26 L531.39,275.38 L531.40,275.49 L531.42,275.61 L531.44,275.73 L531.45,275.85 L531.47,275.97 L531.48,276.09 L531.50,276.22 L531.52,276.35 L531.53,276.48 L531.55,276.61 L531.57,276.75 L531.58,276.89 L531.60,277.03"/>
</g>
<path d="M531.00,505.00 L531.05,267.70 L531.70,268.17 L532.35,268.93 L533.00,271.13 L533.00,271.13 L533.54,269.00 L534.08,268.30 L534.61,267.90 L535.15,267.70 L535.69,267.64 L536.23,267.73 L536.77,267.97 L537.31,268.40 L537.84,269.13 L538.38,271.29 L538.38,271.29 L538.85,269.14 L539.31,268.42 L539.78,268.00 L540.24,267.77 L540.71,267.70 L541.17,267.74 L541.64,267.90 L542.10,268.20 L542.57,268.73 L543.03,270.33 L543.03,270.33 L543.44,268.69 L543.84,268.13 L544.24,267.79 L544.65,267.60 L545.05,267.52 L545.45,267.53 L545.86,267.63 L546.26,267.84 L546.66,268.22 L547.06,269.41 L547.06,269.41 L547.42,268.17 L547.78,267.74 L548.13,267.47 L548.49,267.32 L548.84,267.25 L549.20,267.26 L549.55,267.34 L549.91,267.49 L550.26,267.78 L550.62,268.70 L550.62,268.70 L550.94,267.73 L551.26,267.38 L551.57,267.17 L551.89,267.04 L552.21,266.97 L552.53,266.97 L552.85,267.01 L553.16,267.12 L553.48,267.34 L553.80,268.07 L553.80,268.07 L554.09,267.27 L554.38,266.99 L554.66,266.81 L554.95,266.70 L555.24,266.64 L555.53,266.62 L555.81,266.66 L556.10,266.74 L556.39,266.92 L556.68,267.51 L556.68,267.51 L556.94,266.86 L557.20,266.62 L557.46,266.47 L557.73,266.38 L557.99,266.33 L558.25,266.32 L558.52,266.35 L558.78,266.42 L559.04,266.57 L559.30,267.06 L559.30,267.06 L559.54,266.52 L559.79,266.33 L560.03,266.20 L560.27,266.13 L560.51,266.09 L560.75,266.08 L560.99,266.10 L561.24,266.17 L561.48,266.29 L561.72,266.71 L561.72,266.71 L561.94,266.25 L562.17,266.08 L562.39,265.98 L562.61,265.91 L562.84,265.88 L563.06,265.87 L563.28,265.89 L563.51,265.94 L563.73,266.05 L563.96,266.40 L563.96,266.40 L564.16,266.01 L564.37,265.87 L564.58,265.78 L564.79,265.72 L565.00,265.69 L565.21,265.68 L565.41,265.70 L565.62,265.75 L565.83,265.84 L566.04,266.15 L566.04,266.15 L566.23,265.81 L566.43,265.68 L566.62,265.61 L566.82,265.56 L567.01,265.53 L567.21,265.53 L567.40,265.54 L567.60,265.58 L567.79,265.66 L567.99,265.94 L567.99,265.94 L568.17,265.64 L568.35,265.53 L568.54,265.46 L568.72,265.42 L568.90,265.40 L569.08,265.40 L569.27,265.41 L569.45,265.45 L569.63,265.52 L569.82,265.76 L569.82,265.76 L569.99,265.50 L570.16,265.41 L570.33,265.35 L570.51,265.31 L570.68,265.30 L570.85,265.29 L571.02,265.31 L571.20,265.34 L571.37,265.41 L571.54,265.62 L571.54,265.62 L571.70,265.39 L571.87,265.31 L572.03,265.26 L572.19,265.22 L572.36,265.21 L572.52,265.21 L572.68,265.22 L572.85,265.25 L573.01,265.31 L573.17,265.50 L573.17,265.50 L573.33,265.29 L573.48,265.22 L573.64,265.17 L573.79,265.15 L573.95,265.13 L574.10,265.13 L574.26,265.14 L574.41,265.17 L574.57,265.22 L574.72,265.40 L574.72,265.40 L574.87,265.21 L575.02,265.14 L575.16,265.10 L575.31,265.07 L575.46,265.06 L575.61,265.06 L575.75,265.07 L575.90,265.09 L576.05,265.14 L576.19,265.30 L576.19,265.30 L576.33,265.13 L576.48,265.07 L576.62,265.03 L576.76,265.00 L576.90,264.99 L577.04,264.99 L577.18,265.00 L577.32,265.02 L577.46,265.06 L577.60,265.20 L577.60,265.20 L577.73,265.05 L577.87,264.99 L578.00,264.95 L578.14,264.93 L578.27,264.92 L578.40,264.92 L578.54,264.92 L578.67,264.94 L578.81,264.98 L578.94,265.11 L578.94,265.11 L579.07,264.96 L579.20,264.91 L579.33,264.88 L579.45,264.86 L579.58,264.85 L579.71,264.84 L579.84,264.85 L579.97,264.87 L580.10,264.90 L580.22,265.02 L580.22,265.02 L580.35,264.89 L580.47,264.84 L580.59,264.81 L580.72,264.79 L580.84,264.78 L580.96,264.77 L581.09,264.78 L581.21,264.79 L581.33,264.83 L581.46,264.93 L581.46,264.93 L581.58,264.81 L581.69,264.77 L581.81,264.74 L581.93,264.72 L582.05,264.71 L582.17,264.71 L582.29,264.71 L582.40,264.73 L582.52,264.75 L582.64,264.85 L582.64,264.85 L582.75,264.74 L582.87,264.70 L582.98,264.67 L583.10,264.66 L583.21,264.65 L583.32,264.64 L583.44,264.65 L583.55,264.66 L583.67,264.68 L583.78,264.77 L583.78,264.77 L583.89,264.67 L584.00,264.63 L584.11,264.61 L584.22,264.59 L584.33,264.58 L584.44,264.58 L584.55,264.58 L584.66,264.59 L584.77,264.61 L584.88,264.70 L584.88,264.70 L584.98,264.60 L585.09,264.56 L585.20,264.54 L585.30,264.52 L585.41,264.51 L585.51,264.51 L585.62,264.51 L585.72,264.52 L585.83,264.54 L585.94,264.61 L585.94,264.61 L586.04,264.52 L586.14,264.49 L586.24,264.46 L586.35,264.45 L586.45,264.44 L586.55,264.43 L586.65,264.43 L586.76,264.44 L586.86,264.46 L586.96,264.53 L586.96,264.53 L587.06,264.44 L587.16,264.41 L587.26,264.39 L587.36,264.37 L587.45,264.36 L587.55,264.36 L587.65,264.36 L587.75,264.36 L587.85,264.38 L587.95,264.44 L587.95,264.44 L588.05,264.36 L588.14,264.33 L588.24,264.31 L588.33,264.29 L588.43,264.28 L588.52,264.27 L588.62,264.27 L588.72,264.28 L588.81,264.29 L588.91,264.35 L588.91,264.35 L589.00,264.27 L589.09,264.24 L589.19,264.22 L589.28,264.20 L589.37,264.19 L589.47,264.18 L589.56,264.18 L589.65,264.18 L589.74,264.19 L589.84,264.24 L589.84,264.24 L589.93,264.17 L590.02,264.14 L590.11,264.11 L590.20,264.10 L590.29,264.08 L590.38,264.07 L590.47,264.07 L590.56,264.07 L590.65,264.08 L590.74,264.13 L590.74,264.13 L590.83,264.06 L590.91,264.02 L591.00,264.00 L591.09,263.98 L591.18,263.97 L591.26,263.96 L591.35,263.96 L591.44,263.95 L591.53,263.96 L591.61,264.01 L591.61,264.01 L591.70,263.94 L591.78,263.91 L591.87,263.88 L591.95,263.87 L592.04,263.85 L592.12,263.84 L592.21,263.84 L592.29,263.84 L592.38,263.84 L592.46,263.88 L592.46,263.88 L592.55,263.82 L592.63,263.79 L592.71,263.76 L592.79,263.75 L592.88,263.73 L592.96,263.72 L593.04,263.72 L593.12,263.71 L593.21,263.72 L593.29,263.76 L593.29,263.76 L593.37,263.69 L593.45,263.67 L593.53,263.64 L593.61,263.63 L593.69,263.61 L593.77,263.60 L593.85,263.59 L593.93,263.59 L594.01,263.60 L594.09,263.63 L594.09,263.63 L594.17,263.57 L594.25,263.54 L594.33,263.52 L594.41,263.51 L594.49,263.49 L594.57,263.48 L594.64,263.47 L594.72,263.47 L594.80,263.48 L594.88,263.51 L596.00,263.26 L598.00,262.97 L600.00,262.71 L602.00,262.46 L604.00,262.20 L606.00,261.88 L608.00,261.49 L610.00,260.92 L612.00,260.21 L614.00,259.27 L616.00,258.17 L618.00,257.40 L620.00,256.60 L623.00,254.60 L626.00,254.00 L628.50,252.60 L630.50,253.20 L633.00,251.20 L635.00,251.80 L637.50,250.20 L639.00,251.00 L641.50,249.00 L643.40,250.40 L646.00,249.40 L648.00,250.20 L650.50,248.60 L652.00,249.40 L653.50,248.40 L655.00,250.60 L657.00,251.20 L658.80,252.60 L661.00,253.80 L663.00,255.00 L664.60,255.80 L666.00,256.60 L667.60,256.00 L668.40,257.00 L668.80,262.00 L670.40,263.00 L672.00,265.40 L674.20,268.40 L676.00,271.40 L677.50,274.00 L678.20,275.40 L680.00,277.60 L681.40,283.00 L682.70,288.00 L684.00,294.00 L685.40,301.00 L686.40,306.00 L687.20,310.60 L690.00,311.00 L693.40,311.60 L694.20,315.00 L695.80,318.40 L697.20,323.60 L698.50,328.00 L700.00,332.00 L702.00,335.80 L703.80,337.40 L705.50,341.00 L706.60,346.00 L708.00,352.40 L710.00,354.40 L712.40,357.70 L714.00,361.60 L715.00,363.80 L716.40,361.60 L717.30,361.00 L718.40,367.00 L720.30,378.60 L722.80,386.00 L724.70,392.70 L726.60,396.60 L729.00,402.00 L731.20,409.00 L733.00,415.00 L735.00,421.60 L736.60,429.00 L737.60,437.60 L738.60,437.60 L739.40,432.00 L740.70,430.20 L743.00,433.00 L746.00,437.00 L748.50,440.00 L751.00,445.00 L753.40,450.00 L754.80,454.00 L755.60,451.00 L757.00,449.30 L759.00,452.00 L762.00,456.40 L765.70,460.80 L769.00,463.60 L772.00,466.60 L774.20,468.10 L777.00,470.40 L779.00,470.20 L781.60,471.80 L783.00,474.00 L784.40,478.00 L785.70,480.30 L786.20,481.00 L786.20,505.00 L722.00,505.00 L722.00,503.60 L562.20,503.60 L562.20,505.00 Z" fill="#ff0000" stroke="none"/>
<g stroke="#800080" stroke-width="7.30">
<path d="M108.00,454.20 L600.00,454.20 L600.00,454.20 L600.98,454.20 L601.96,454.20 L602.94,454.20 L603.92,454.20 L604.90,454.21 L605.88,454.21 L606.86,454.21 L607.84,454.21 L608.82,454.22 L609.80,454.22 L610.78,454.22 L611.75,454.23 L612.73,454.23 L613.71,454.24 L614.69,454.24 L615.67,454.24 L616.65,454.25 L617.63,454.26 L618.61,454.26 L619.59,454.27 L620.57,454.27 L621.55,454.28 L622.53,454.28 L623.51,454.29 L624.49,454.30 L625.47,454.30 L626.45,454.31 L627.43,454.32 L628.41,454.33 L629.39,454.34 L630.37,454.35 L631.34,454.36 L632.32,454.38 L633.30,454.39 L634.28,454.40 L635.26,454.42 L636.24,454.43 L637.22,454.45 L638.20,454.47 L639.18,454.49 L640.16,454.50 L641.14,454.52 L642.12,454.54 L643.10,454.56 L644.08,454.58 L645.06,454.60 L646.04,454.62 L647.01,454.64 L647.99,454.67 L648.97,454.69 L649.95,454.72 L650.93,454.75 L651.91,454.78 L652.89,454.81 L653.87,454.85 L654.85,454.88 L655.83,454.92 L656.81,454.95 L657.78,454.99 L658.76,455.03 L659.74,455.07 L660.72,455.12 L661.70,455.17 L662.68,455.22 L663.66,455.27 L664.63,455.33 L665.61,455.39 L666.59,455.46 L667.57,455.52 L668.54,455.59 L669.52,455.66 L670.50,455.74 L671.47,455.82 L672.45,455.91 L673.42,456.00 L674.40,456.10 L675.38,456.21 L676.35,456.32 L677.32,456.43 L678.30,456.56 L679.27,456.68 L680.24,456.82 L681.21,456.95 L682.17,457.10 L683.14,457.25 L684.10,457.41 L685.07,457.58 L686.03,457.76 L687.00,457.96 L687.96,458.16 L688.92,458.37 L689.87,458.60 L690.83,458.83 L691.78,459.07 L692.73,459.31 L693.67,459.57 L694.61,459.83 L695.54,460.12 L696.47,460.43 L697.40,460.76 L698.31,461.11 L699.22,461.48 L700.13,461.85 L701.03,462.24 L701.92,462.64 L702.81,463.06 L703.70,463.49 L704.57,463.93 L705.44,464.39 L706.29,464.87 L707.13,465.35 L707.97,465.86 L708.80,466.39 L709.62,466.94 L710.43,467.50 L711.22,468.08 L712.00,468.68 L712.76,469.29 L713.51,469.91 L714.25,470.55 L714.98,471.21 L715.71,471.88 L716.42,472.58 L717.10,473.29 L717.77,474.01 L718.40,474.75 L719.00,475.50 L719.58,476.28 L720.13,477.09 L720.66,477.91 L721.18,478.76 L721.67,479.62 L722.13,480.49 L722.58,481.36 L723.01,482.23 L723.42,483.12 L723.83,484.01 L724.22,484.92 L724.59,485.83 L724.95,486.75 L725.28,487.67 L725.58,488.60 L725.86,489.53 L726.13,490.47 L726.39,491.42 L726.63,492.37 L726.86,493.33 L727.06,494.29 L727.24,495.26 L727.39,496.22 L727.52,497.19 L727.64,498.16 L727.76,499.13 L727.87,500.10 L727.97,501.07 L728.05,502.05 L728.12,503.03 L728.17,504.01 L728.20,505.00"/>
<path d="M728.20,505.00 L728.31,505.00 L728.42,505.00 L728.53,505.00 L728.63,505.00 L728.74,505.00 L728.85,505.00 L728.96,505.00 L729.07,505.00 L729.18,505.00 L729.29,505.00 L729.39,505.00 L729.50,505.00 L729.61,505.00 L729.72,505.00 L729.83,505.00 L729.94,505.00 L730.05,505.00 L730.15,505.00 L730.26,505.00 L730.37,505.00 L730.48,505.00 L730.59,505.00 L730.70,505.00 L730.81,505.00 L730.91,505.00 L731.02,505.00 L731.13,505.00 L731.24,505.00 L731.35,505.00 L731.46,505.00 L731.56,505.00 L731.67,505.00 L731.78,505.00 L731.89,505.00 L732.00,505.00 L732.11,505.00 L732.22,504.97 L732.32,504.55 L732.43,504.16 L732.54,503.77 L732.65,503.39 L732.76,503.02 L732.87,502.66 L732.98,502.32 L733.08,501.98 L733.19,501.65 L733.30,501.32 L733.41,501.01 L733.52,500.70 L733.63,500.40 L733.74,500.11 L733.84,499.82 L733.95,499.54 L734.06,499.27 L734.17,499.01 L734.28,498.75 L734.39,498.49 L734.50,498.24 L734.60,498.00 L734.71,497.77 L734.82,497.53 L734.93,497.31 L735.04,497.09 L735.15,496.87 L735.26,496.66 L735.36,496.46 L735.47,496.26 L735.58,496.06 L735.69,495.87 L735.80,495.68 L735.91,495.50 L736.02,495.32 L736.12,495.15 L736.23,494.98 L736.34,494.82 L736.45,494.66 L736.56,494.50 L736.67,494.35 L736.77,494.20 L736.88,494.05 L736.99,493.91 L737.10,493.78 L737.21,493.65 L737.32,493.52 L737.43,493.39 L737.53,493.27 L737.64,493.16 L737.75,493.04 L737.86,492.93 L737.97,492.83 L738.08,492.73 L738.19,492.63 L738.29,492.53 L738.40,492.44 L738.51,492.36 L738.62,492.27 L738.73,492.19 L738.84,492.12 L738.95,492.05 L739.05,491.98 L739.16,491.91 L739.27,491.85 L739.38,491.79 L739.49,491.74 L739.60,491.69 L739.71,491.65 L739.81,491.60 L739.92,491.57 L740.03,491.53 L740.14,491.50 L740.25,491.47 L740.36,491.45 L740.47,491.43 L740.57,491.42 L740.68,491.41 L740.79,491.40 L740.90,491.40 L741.01,491.40 L741.12,491.41 L741.23,491.42 L741.33,491.43 L741.44,491.45 L741.55,491.48 L741.66,491.50 L741.77,491.54 L741.88,491.57 L741.98,491.61 L742.09,491.66 L742.20,491.71 L742.31,491.77 L742.42,491.83 L742.53,491.90 L742.64,491.97 L742.74,492.05 L742.85,492.13 L742.96,492.22 L743.07,492.31 L743.18,492.41 L743.29,492.51 L743.40,492.63 L743.50,492.74 L743.61,492.87 L743.72,493.00 L743.83,493.13 L743.94,493.28 L744.05,493.43 L744.16,493.59 L744.26,493.75 L744.37,493.93 L744.48,494.11 L744.59,494.30 L744.70,494.49 L744.81,494.70 L744.92,494.92 L745.02,495.14 L745.13,495.38 L745.24,495.62 L745.35,495.88 L745.46,496.14 L745.57,496.42 L745.68,496.71 L745.78,497.01 L745.89,497.33 L746.00,497.66 L746.11,498.00 L746.22,498.36 L746.33,498.74 L746.44,499.13 L746.54,499.54 L746.65,499.97 L746.76,500.42 L746.87,500.89 L746.98,501.38 L747.09,501.90 L747.19,502.45 L747.30,503.02 L747.41,503.62 L747.52,504.26 L747.63,504.94 L747.74,505.00 L747.85,505.00 L747.95,505.00 L748.06,505.00 L748.17,505.00 L748.28,505.00 L748.39,505.00 L748.50,505.00 L748.61,505.00 L748.71,505.00 L748.82,505.00 L748.93,505.00 L749.04,505.00 L749.15,505.00 L749.26,505.00 L749.37,505.00 L749.47,505.00 L749.58,505.00 L749.69,505.00 L749.80,505.00"/>
</g>
</g>
<g stroke="#000" stroke-width="1.4" fill="none">
<path d="M101.00,79.8 V503.1 H786.4"/>
<path d="M247.70,79.8 V503.1"/>
<path d="M453.95,79.8 V503.1"/>
<path d="M626.30,79.8 V503.1"/>
<path d="M700.00,79.8 V503.1"/>
</g>
<g stroke="#666" stroke-width="0.75">
<path d="M101.6,114.5 h7.4"/>
<path d="M101.6,185.4 h7.4"/>
<path d="M101.6,256.0 h7.4"/>
<path d="M101.6,326.8 h7.4"/>
<path d="M101.6,397.4 h7.4"/>
<path d="M101.6,468.3 h7.4"/>
</g>
<g style="opacity:0.999">
<path d="M0.70,24.00 L1.08,23.01 L1.57,22.09 L2.15,21.24 L2.83,20.46 L3.57,19.76 L4.39,19.12 L5.26,18.56 L6.17,18.08 L7.12,17.67 L8.10,17.33 L9.09,17.07 L10.10,16.86 L11.12,16.71 L12.14,16.59 L13.17,16.51 L14.20,16.45 L15.23,16.40 L16.26,16.38 L17.29,16.38 L18.31,16.41 L19.34,16.46 L20.36,16.54 L21.39,16.65 L22.40,16.81 L23.41,17.02 L24.40,17.31 L25.38,17.67 L26.32,18.13 L27.21,18.68 L28.01,19.34 L28.68,20.11 L29.21,20.98 L29.62,21.93 L29.92,22.93 L30.12,23.96 L30.24,24.98 L30.23,26.01 L30.08,27.02 L29.79,28.02 L29.38,28.97 L28.86,29.86 L28.24,30.69 L27.54,31.45 L26.78,32.15 L25.97,32.78 L25.10,33.35 L24.21,33.85 L23.28,34.31 L22.33,34.71 L21.37,35.06 L20.39,35.38 L19.40,35.65 L18.40,35.89 L17.39,36.10 L16.37,36.28 L15.36,36.44 L14.34,36.58 L13.32,36.69 L12.30,36.80 L12.20,35.50 L13.07,35.44 L13.93,35.35 L14.79,35.22 L15.64,35.05 L16.48,34.84 L17.31,34.60 L18.13,34.32 L18.94,34.00 L19.73,33.66 L20.51,33.27 L21.27,32.86 L22.02,32.41 L22.74,31.93 L23.43,31.40 L24.08,30.83 L24.69,30.21 L25.24,29.53 L25.72,28.81 L26.14,28.04 L26.48,27.24 L26.74,26.41 L26.90,25.55 L26.95,24.68 L26.87,23.81 L26.67,22.96 L26.34,22.14 L25.90,21.39 L25.35,20.72 L24.70,20.15 L23.97,19.66 L23.19,19.25 L22.38,18.92 L21.55,18.65 L20.71,18.43 L19.86,18.27 L19.01,18.14 L18.14,18.06 L17.28,18.01 L16.41,17.98 L15.55,17.99 L14.68,18.04 L13.82,18.11 L12.96,18.21 L12.11,18.34 L11.26,18.51 L10.41,18.70 L9.57,18.92 L8.73,19.17 L7.91,19.46 L7.11,19.80 L6.34,20.19 L5.62,20.65 L4.93,21.17 L4.28,21.74 L3.65,22.34 L3.03,22.96 L2.43,23.59 L1.82,24.21 L1.20,24.80 Z"/>
<path d="M11.20,18.00 L11.06,19.00 L10.91,20.00 L10.76,21.00 L10.60,22.00 L10.42,23.00 L10.25,23.99 L10.06,24.99 L9.87,25.98 L9.67,26.97 L9.46,27.96 L9.26,28.95 L9.04,29.94 L8.82,30.93 L8.60,31.91 L8.37,32.90 L8.14,33.88 L7.90,34.87 L7.66,35.85 L7.41,36.83 L7.14,37.81 L6.87,38.78 L6.57,39.75 L6.26,40.71 L5.93,41.66 L5.58,42.61 L5.20,43.55 L4.80,44.48 L4.36,45.39 L3.90,46.30 L4.30,47.20 L5.40,47.00 L6.24,46.27 L6.96,45.47 L7.58,44.61 L8.11,43.70 L8.57,42.74 L8.97,41.75 L9.32,40.74 L9.65,39.71 L9.97,38.68 L10.29,37.66 L10.62,36.63 L10.94,35.61 L11.25,34.59 L11.55,33.57 L11.83,32.54 L12.10,31.51 L12.34,30.47 L12.57,29.42 L12.77,28.37 L12.97,27.32 L13.15,26.26 L13.31,25.21 L13.48,24.15 L13.63,23.08 L13.78,22.02 L13.93,20.96 L14.09,19.91 L14.24,18.85 L14.40,17.80 Z"/>
<text transform="translate(31.85,23.30) scale(1.1251,1)" font-size="28.78" stroke="#fff" stroke-width="0.18">1</text>
<path d="M51.6,30.3 L62.4,1.2" stroke="#000" stroke-width="1.35" fill="none"/>
<text transform="translate(66.37,23.30) scale(1.1301,1)" font-size="28.70" stroke="#fff" stroke-width="0.18">2</text>
<text class="it" transform="translate(29.44,57.22) scale(1.0269,1)" font-size="29.06">θ</text>
<path d="M87.7,55.2 L102.2,13.7" stroke="#000" stroke-width="1.75" fill="none"/>
<path fill-rule="evenodd" d="M107.6,44.8 L122.2,15.1 L123.6,15.1 L138.1,44.8 Z M110.2,42.2 L132.4,42.2 L120.9,19.4 Z"/>
<text class="it" transform="translate(139.90,45.08) scale(1.0053,1)" font-size="42.74">θ</text>
<text transform="translate(47.38,126.40) scale(0.8048,1)" font-size="34.23" stroke="#000" stroke-width="0.35">1</text>
<text transform="translate(61.73,126.46) scale(1.0410,1)" font-size="34.68" stroke="#000" stroke-width="0.35">0</text>
<text transform="translate(79.55,114.20) scale(0.9560,1)" font-size="23.85" stroke="#000" stroke-width="0.30">4</text>
<text transform="translate(47.38,197.30) scale(0.8048,1)" font-size="34.23" stroke="#000" stroke-width="0.35">1</text>
<text transform="translate(61.73,197.36) scale(1.0410,1)" font-size="34.68" stroke="#000" stroke-width="0.35">0</text>
<text transform="translate(78.84,185.10) scale(1.1151,1)" font-size="23.71" stroke="#000" stroke-width="0.30">2</text>
<text transform="translate(78.53,264.70) scale(0.8142,1)" font-size="34.54" stroke="#000" stroke-width="0.35">1</text>
<text transform="translate(32.58,338.80) scale(0.8048,1)" font-size="34.23" stroke="#000" stroke-width="0.35">1</text>
<text transform="translate(47.11,338.86) scale(1.0546,1)" font-size="34.68" stroke="#000" stroke-width="0.35">0</text>
<rect x="66.1" y="319.40" width="12.1" height="1.6"/>
<text transform="translate(78.84,326.60) scale(1.1151,1)" font-size="23.71" stroke="#000" stroke-width="0.30">2</text>
<text transform="translate(32.58,409.40) scale(0.8048,1)" font-size="34.23" stroke="#000" stroke-width="0.35">1</text>
<text transform="translate(47.11,409.46) scale(1.0546,1)" font-size="34.68" stroke="#000" stroke-width="0.35">0</text>
<rect x="66.1" y="390.00" width="12.1" height="1.6"/>
<text transform="translate(79.55,397.20) scale(0.9560,1)" font-size="23.85" stroke="#000" stroke-width="0.30">4</text>
<text transform="translate(32.58,480.20) scale(0.8048,1)" font-size="34.23" stroke="#000" stroke-width="0.35">1</text>
<text transform="translate(47.11,480.26) scale(1.0546,1)" font-size="34.68" stroke="#000" stroke-width="0.35">0</text>
<rect x="66.1" y="460.80" width="12.1" height="1.6"/>
<text transform="translate(78.93,467.76) scale(1.0103,1)" font-size="24.56" stroke="#000" stroke-width="0.30">6</text>
<text class="it" transform="translate(135.31,556.60) scale(1.0784,1)" font-size="41.65">k</text>
<text transform="translate(156.55,562.89) scale(1.2764,1)" font-size="26.47" stroke="#fff" stroke-width="0.36">g</text>
<text transform="translate(174.10,562.00) scale(1.2928,1)" font-size="26.95" stroke="#fff" stroke-width="0.36">r</text>
<text transform="translate(185.40,562.03) scale(1.1434,1)" font-size="27.45" stroke="#fff" stroke-width="0.18">o</text>
<text transform="translate(201.07,561.94) scale(1.2608,1)" font-size="26.67" stroke="#fff" stroke-width="0.36">w</text>
<text transform="translate(230.95,557.03) scale(0.8656,1)" font-size="45.88">(</text>
<text class="it" transform="translate(244.67,556.50) scale(1.3811,1)" font-size="40.53" stroke="#fff" stroke-width="0.36">τ</text>
<text transform="translate(264.16,562.20) scale(1.1369,1)" font-size="29.68" stroke="#fff" stroke-width="0.18">f</text>
<text transform="translate(279.51,557.03) scale(0.8741,1)" font-size="45.88">)</text>
<text class="it" transform="translate(359.66,554.98) scale(1.0894,1)" font-size="41.38" stroke="#fff" stroke-width="0.18">a</text>
<text class="it" transform="translate(383.78,554.50) scale(1.0266,1)" font-size="43.83">H</text>
<rect x="425.3" y="523.2" width="1.6" height="41.2"/>
<text class="it" transform="translate(432.39,566.71) scale(1.1935,1)" font-size="28.28" stroke="#fff" stroke-width="0.18">a</text>
<rect x="451.1" y="556.1" width="21.8" height="1.2"/><rect x="451.1" y="561.8" width="21.8" height="1.2"/>
<text transform="translate(476.25,566.20) scale(1.0567,1)" font-size="27.42">1</text>
<text transform="translate(490.77,567.01) scale(1.1782,1)" font-size="29.64" stroke="#fff" stroke-width="0.18">0</text>
<text transform="translate(509.60,558.90) scale(1.1404,1)" font-size="22.64" stroke="#fff" stroke-width="0.18">4</text>
<text class="it" transform="translate(525.33,567.20) scale(1.2221,1)" font-size="29.32" stroke="#fff" stroke-width="0.36">a</text>
<text transform="translate(544.13,570.80) scale(1.3379,1)" font-size="21.02" stroke="#fff" stroke-width="0.36">f</text>
<text class="it" transform="translate(607.41,558.10) scale(1.0897,1)" font-size="41.22" stroke="#fff" stroke-width="0.18">k</text>
<text transform="translate(628.45,564.40) scale(1.1592,1)" font-size="29.40" stroke="#fff" stroke-width="0.18">f</text>
<text class="it" transform="translate(681.87,556.49) scale(1.1293,1)" font-size="39.50" stroke="#fff" stroke-width="0.18">a</text>
<text transform="translate(704.52,562.20) scale(0.9571,1)" font-size="29.00">i</text>
<text class="it" transform="translate(717.39,556.30) scale(1.0361,1)" font-size="43.68">H</text>
<text transform="translate(751.33,562.20) scale(0.9426,1)" font-size="29.00">i</text>
<text class="it" transform="translate(809.41,520.90) scale(1.0637,1)" font-size="42.23">k</text>
</g>
</svg>
</body></html>
